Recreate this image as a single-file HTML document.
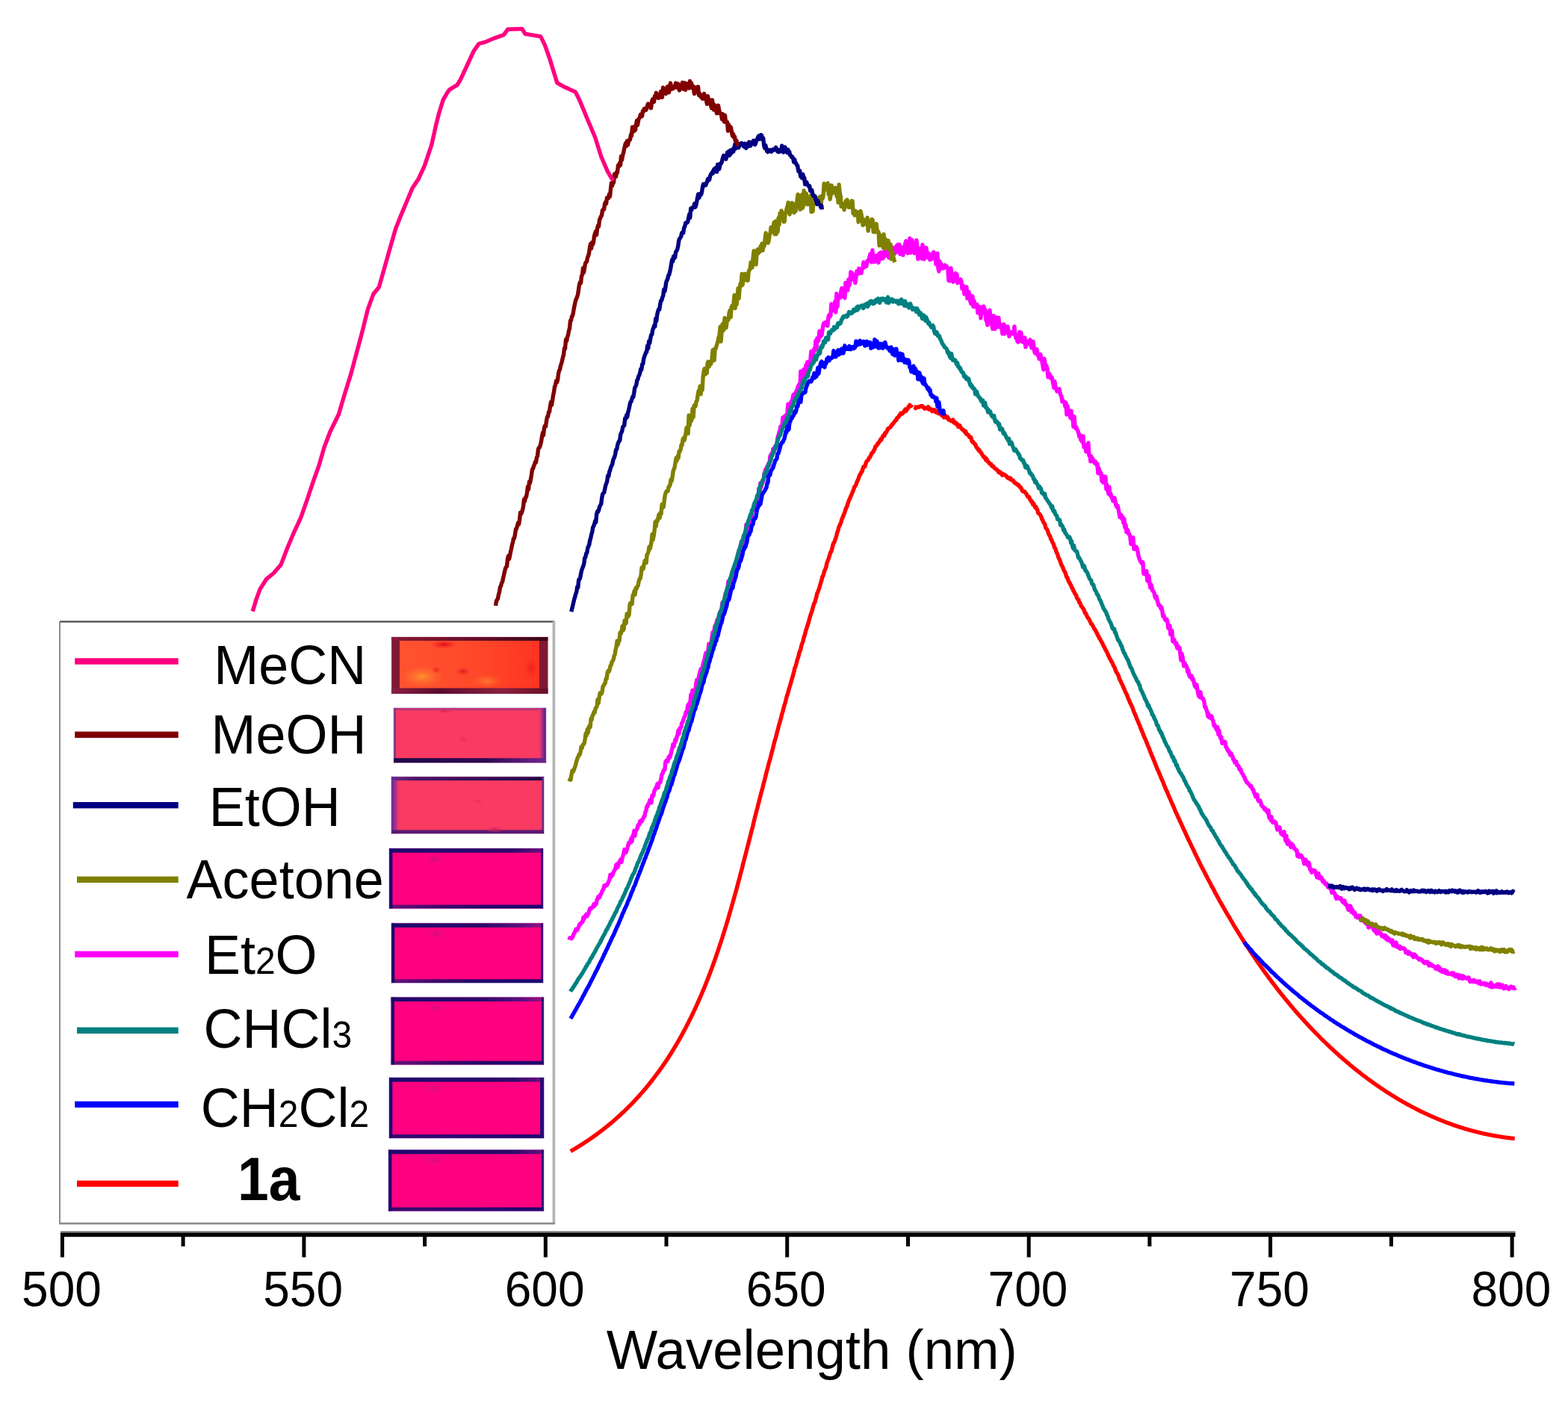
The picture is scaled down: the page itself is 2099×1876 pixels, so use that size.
<!DOCTYPE html>
<html><head><meta charset="utf-8"><title>Emission spectra</title>
<style>html,body{margin:0;padding:0;background:#fff;}body{width:2099px;height:1876px;overflow:hidden;}svg{display:block;}</style>
</head><body>
<svg xmlns="http://www.w3.org/2000/svg" width="2099" height="1876" viewBox="0 0 2099 1876">
<rect width="100%" height="100%" fill="#fff"/>
<path d="M763.8 1541.6L764.8 1541.0L765.8 1540.4L766.8 1539.8L767.8 1539.2L768.8 1538.6L769.8 1538.1L770.8 1537.5L771.8 1536.9L772.8 1536.3L773.8 1535.6L774.8 1535.0L775.8 1534.4L776.8 1533.8L777.8 1533.1L778.8 1532.5L779.8 1531.9L780.8 1531.2L781.8 1530.6L782.8 1529.9L783.8 1529.3L784.8 1528.6L785.8 1527.9L786.8 1527.3L787.8 1526.6L788.8 1525.9L789.8 1525.2L790.8 1524.5L791.8 1523.9L792.8 1523.2L793.8 1522.5L794.8 1521.7L795.8 1521.0L796.8 1520.3L797.8 1519.6L798.8 1518.8L799.8 1518.1L800.8 1517.4L801.8 1516.6L802.8 1515.9L803.8 1515.1L804.8 1514.3L805.8 1513.6L806.8 1512.8L807.8 1512.0L808.8 1511.3L809.8 1510.5L810.8 1509.6L811.8 1508.9L812.8 1508.1L813.8 1507.2L814.8 1506.4L815.8 1505.6L816.8 1504.8L817.8 1503.9L818.8 1503.1L819.8 1502.3L820.8 1501.4L821.8 1500.5L822.8 1499.7L823.8 1498.8L824.8 1497.9L825.8 1497.0L826.8 1496.1L827.8 1495.2L828.8 1494.3L829.8 1493.4L830.8 1492.5L831.8 1491.5L832.8 1490.6L833.8 1489.7L834.8 1488.8L835.8 1487.8L836.8 1486.8L837.8 1485.8L838.8 1484.9L839.8 1483.9L840.8 1482.9L841.8 1481.9L842.8 1480.9L843.8 1479.9L844.8 1478.9L845.8 1477.8L846.8 1476.8L847.8 1475.8L848.8 1474.7L849.8 1473.6L850.8 1472.5L851.8 1471.5L852.8 1470.4L853.8 1469.3L854.8 1468.2L855.8 1467.1L856.8 1466.0L857.8 1464.8L858.8 1463.7L859.8 1462.6L860.8 1461.4L861.8 1460.3L862.8 1459.1L863.8 1457.9L864.8 1456.7L865.8 1455.5L866.8 1454.3L867.8 1453.1L868.8 1451.8L869.8 1450.5L870.8 1449.3L871.8 1448.0L872.8 1446.7L873.8 1445.5L874.8 1444.2L875.8 1442.9L876.8 1441.5L877.8 1440.2L878.8 1438.9L879.8 1437.5L880.8 1436.2L881.8 1434.8L882.8 1433.5L883.8 1432.0L884.8 1430.6L885.8 1429.2L886.8 1427.8L887.8 1426.3L888.8 1424.9L889.8 1423.4L890.8 1421.9L891.8 1420.4L892.8 1418.9L893.8 1417.4L894.8 1415.9L895.8 1414.3L896.8 1412.8L897.8 1411.2L898.8 1409.6L899.8 1408.0L900.8 1406.3L901.8 1404.7L902.8 1403.0L903.8 1401.4L904.8 1399.7L905.8 1398.0L906.8 1396.4L907.8 1394.5L908.8 1392.8L909.8 1391.1L910.8 1389.3L911.8 1387.5L912.8 1385.7L913.8 1383.9L914.8 1382.0L915.8 1380.1L916.8 1378.4L917.8 1376.4L918.8 1374.4L919.8 1372.5L920.8 1370.6L921.8 1368.6L922.8 1366.5L923.8 1364.6L924.8 1362.6L925.8 1360.5L926.8 1358.5L927.8 1356.4L928.8 1354.3L929.8 1352.2L930.8 1349.9L931.8 1347.8L932.8 1345.6L933.8 1343.4L934.8 1341.2L935.8 1338.7L936.8 1336.7L937.8 1334.2L938.8 1332.0L939.8 1329.5L940.8 1327.2L941.8 1324.9L942.8 1322.4L943.8 1319.9L944.8 1317.5L945.8 1314.9L946.8 1312.4L947.8 1309.9L948.8 1307.3L949.8 1304.6L950.8 1302.2L951.8 1299.2L952.8 1296.7L953.8 1293.9L954.8 1291.2L955.8 1288.4L956.8 1285.6L957.8 1282.8L958.8 1279.7L959.8 1276.8L960.8 1274.1L961.8 1271.0L962.8 1268.0L963.8 1264.9L964.8 1262.1L965.8 1259.0L966.8 1256.0L967.8 1252.6L968.8 1249.5L969.8 1246.2L970.8 1243.1L971.8 1240.0L972.8 1236.4L973.8 1233.3L974.8 1229.9L975.8 1226.4L976.8 1222.7L977.8 1219.7L978.8 1216.1L979.8 1212.5L980.8 1209.1L981.8 1205.5L982.8 1202.1L983.8 1198.1L984.8 1194.8L985.8 1191.2L986.8 1187.5L987.8 1183.5L988.8 1179.7L989.8 1176.2L990.8 1172.2L991.8 1168.4L992.8 1164.8L993.8 1160.7L994.8 1156.5L995.8 1152.9L996.8 1148.8L997.8 1145.3L998.8 1141.3L999.8 1137.2L1000.8 1133.4L1001.8 1129.6L1002.8 1125.5L1003.8 1121.8L1004.8 1117.6L1005.8 1113.8L1006.8 1110.0L1007.8 1106.1L1008.8 1101.6L1009.8 1098.0L1010.8 1093.4L1011.8 1089.7L1012.8 1085.5L1013.8 1082.3L1014.8 1077.8L1015.8 1074.2L1016.8 1070.3L1017.8 1066.4L1018.8 1062.4L1019.8 1058.7L1020.8 1055.2L1021.8 1050.9L1022.8 1047.2L1023.8 1043.4L1024.8 1039.3L1025.8 1035.1L1026.8 1031.5L1027.8 1028.1L1028.8 1023.5L1029.8 1020.0L1030.8 1016.7L1031.8 1012.8L1032.8 1008.8L1033.8 1005.3L1034.8 1001.3L1035.8 997.1L1036.8 993.2L1037.8 989.7L1038.8 986.5L1039.8 982.3L1040.8 978.5L1041.8 974.8L1042.8 970.8L1043.8 967.6L1044.8 963.6L1045.8 960.5L1046.8 955.8L1047.8 953.1L1048.8 949.1L1049.8 945.0L1050.8 942.4L1051.8 938.4L1052.8 934.0L1053.8 930.9L1054.8 927.8L1055.8 923.9L1056.8 920.9L1057.8 917.3L1058.8 913.7L1059.8 910.1L1060.8 907.0L1061.8 903.2L1062.8 899.6L1063.8 894.9L1064.8 892.8L1065.8 889.5L1066.8 885.3L1067.8 881.8L1068.8 879.5L1069.8 874.3L1070.8 871.9L1071.8 869.4L1072.8 864.4L1073.8 861.8L1074.8 859.1L1075.8 854.7L1076.8 851.7L1077.8 848.5L1078.8 844.2L1079.8 841.3L1080.8 838.2L1081.8 835.2L1082.8 831.4L1083.8 828.0L1084.8 824.3L1085.8 821.4L1086.8 818.8L1087.8 815.1L1088.8 811.4L1089.8 808.1L1090.8 806.7L1091.8 802.8L1092.8 799.4L1093.8 794.5L1094.8 793.0L1095.8 789.7L1096.8 787.3L1097.8 783.4L1098.8 780.0L1099.8 777.2L1100.8 772.5L1101.8 771.3L1102.8 767.7L1103.8 764.0L1104.8 762.2L1105.8 759.5L1106.8 754.3L1107.8 751.7L1108.8 749.3L1109.8 746.2L1110.8 742.8L1111.8 739.4L1112.8 738.5L1113.8 734.8L1114.8 730.3L1115.8 727.2L1116.8 726.3L1117.8 722.9L1118.8 720.5L1119.8 716.9L1120.8 712.8L1121.8 710.7L1122.8 706.0L1123.8 704.2L1124.8 701.9L1125.8 699.5L1126.8 695.8L1127.8 693.4L1128.8 691.1L1129.8 688.4L1130.8 685.9L1131.8 682.9L1132.8 679.8L1133.8 678.1L1134.8 674.9L1135.8 671.7L1136.8 669.3L1137.8 667.3L1138.8 664.7L1139.8 662.5L1140.8 660.0L1141.8 657.7L1142.8 655.1L1143.8 651.9L1144.8 651.0L1145.8 649.2L1146.8 646.5L1147.8 643.8L1148.8 642.1L1149.8 638.8L1150.8 635.8L1151.8 635.4L1152.8 632.5L1153.8 631.9L1154.8 628.3L1155.8 625.3L1156.8 624.4L1157.8 624.8L1158.8 621.1L1159.8 618.4L1160.8 617.1L1161.8 616.4L1162.8 614.6L1163.8 612.5L1164.8 611.9L1165.8 609.5L1166.8 607.1L1167.8 606.0L1168.8 605.3L1169.8 603.1L1170.8 601.5L1171.8 597.9L1172.8 597.2L1173.8 596.5L1174.8 594.0L1175.8 593.8L1176.8 591.8L1177.8 590.7L1178.8 588.1L1179.8 589.0L1180.8 586.7L1181.8 583.9L1182.8 582.8L1183.8 583.5L1184.8 579.7L1185.8 579.5L1186.8 578.3L1187.8 576.1L1188.8 573.7L1189.8 573.7L1190.8 572.7L1191.8 572.2L1192.8 570.6L1193.8 568.7L1194.8 568.3L1195.8 566.9L1196.8 565.4L1197.8 564.1L1198.8 562.7L1199.8 562.5L1200.8 559.7L1201.8 559.0L1202.8 558.6L1203.8 556.0L1204.8 556.1L1205.8 553.4L1206.8 553.8L1207.8 554.0L1208.8 553.0L1209.8 551.4L1210.8 550.3L1211.8 548.1L1212.8 550.5L1213.8 548.2L1214.8 547.9L1215.8 545.0L1216.8 544.8L1217.8 542.2L1218.8 544.1L1219.8 543.4L1220.5 541.7" fill="none" stroke="#FF0000" stroke-width="5.4" stroke-linejoin="round" stroke-linecap="butt"/>
<path d="M1223.7 544.7L1224.7 544.9L1225.7 546.7L1226.7 545.5L1227.7 545.5L1228.7 545.0L1229.7 544.7L1230.7 545.1L1231.7 544.4L1232.7 543.8L1233.7 543.7L1234.7 543.6L1235.7 545.3L1236.7 545.8L1237.7 547.1L1238.7 546.2L1239.7 546.2L1240.7 546.9L1241.7 546.4L1242.7 544.8L1243.7 548.2L1244.7 547.0L1245.7 548.0L1246.7 547.9L1247.7 550.7L1248.7 550.2L1249.7 549.9L1250.7 548.7L1251.7 551.3L1252.7 549.9L1253.7 552.5L1254.7 550.2L1255.7 552.2L1256.7 553.8L1257.7 552.5L1258.7 554.1L1259.7 554.7L1260.7 556.1L1261.7 555.1L1262.7 557.0L1263.7 558.9L1264.7 555.9L1265.7 557.1L1266.7 559.1L1267.7 558.6L1268.7 558.5L1269.7 562.0L1270.7 562.1L1271.7 562.9L1272.7 563.6L1273.7 563.9L1274.7 562.9L1275.7 562.1L1276.7 565.7L1277.7 564.8L1278.7 566.7L1279.7 567.8L1280.7 566.8L1281.7 568.5L1282.7 571.5L1283.7 571.3L1284.7 569.7L1285.7 572.0L1286.7 573.1L1287.7 574.6L1288.7 575.7L1289.7 575.8L1290.7 576.6L1291.7 578.8L1292.7 577.6L1293.7 581.3L1294.7 581.6L1295.7 582.0L1296.7 583.2L1297.7 585.3L1298.7 584.9L1299.7 585.5L1300.7 589.4L1301.7 591.9L1302.7 591.7L1303.7 593.3L1304.7 594.7L1305.7 595.2L1306.7 598.0L1307.7 599.8L1308.7 600.4L1309.7 602.6L1310.7 602.2L1311.7 604.8L1312.7 605.2L1313.7 606.7L1314.7 608.8L1315.7 610.0L1316.7 611.9L1317.7 612.9L1318.7 612.4L1319.7 615.9L1320.7 614.4L1321.7 616.9L1322.7 618.4L1323.7 619.1L1324.7 620.7L1325.7 621.3L1326.7 621.4L1327.7 624.0L1328.7 624.2L1329.7 624.3L1330.7 626.1L1331.7 626.9L1332.7 628.1L1333.7 628.1L1334.7 629.5L1335.7 630.0L1336.7 632.3L1337.7 631.3L1338.7 633.4L1339.7 632.9L1340.7 634.7L1341.7 636.2L1342.7 634.7L1343.7 635.8L1344.7 635.5L1345.7 636.3L1346.7 637.1L1347.7 638.3L1348.7 639.7L1349.7 640.4L1350.7 639.8L1351.7 641.1L1352.7 640.3L1353.7 642.8L1354.7 642.9L1355.7 642.9L1356.7 644.0L1357.7 645.9L1358.7 646.3L1359.7 647.6L1360.7 647.5L1361.7 648.9L1362.7 649.5L1363.7 649.3L1364.7 651.5L1365.7 652.5L1366.7 653.0L1367.7 655.3L1368.7 657.5L1369.7 658.0L1370.7 658.0L1371.7 658.1L1372.7 660.1L1373.7 661.0L1374.7 662.9L1375.7 665.0L1376.7 665.3L1377.7 665.5L1378.7 669.1L1379.7 669.5L1380.7 672.0L1381.7 671.7L1382.7 675.6L1383.7 674.4L1384.7 677.1L1385.7 679.3L1386.7 678.6L1387.7 681.4L1388.7 682.5L1389.7 686.8L1390.7 687.9L1391.7 688.4L1392.7 689.7L1393.7 691.6L1394.7 695.0L1395.7 696.3L1396.7 699.2L1397.7 700.6L1398.7 701.8L1399.7 706.5L1400.7 707.7L1401.7 709.0L1402.7 711.5L1403.7 714.9L1404.7 716.9L1405.7 717.7L1406.7 721.9L1407.7 722.8L1408.7 726.0L1409.7 727.1L1410.7 729.9L1411.7 733.4L1412.7 734.4L1413.7 737.8L1414.7 740.4L1415.7 742.1L1416.7 746.0L1417.7 748.0L1418.7 749.9L1419.7 753.1L1420.7 755.7L1421.7 758.1L1422.7 759.6L1423.7 762.5L1424.7 764.6L1425.7 766.0L1426.7 768.8L1427.7 772.6L1428.7 773.1L1429.7 776.1L1430.7 779.0L1431.7 779.9L1432.7 782.3L1433.7 783.9L1434.7 786.8L1435.7 787.7L1436.7 790.8L1437.7 792.0L1438.7 794.7L1439.7 795.4L1440.7 797.7L1441.7 800.8L1442.7 802.5L1443.7 802.7L1444.7 806.7L1445.7 807.2L1446.7 810.0L1447.7 811.9L1448.7 813.1L1449.7 814.7L1450.7 815.7L1451.7 818.8L1452.7 821.4L1453.7 821.4L1454.7 824.5L1455.7 826.1L1456.7 827.9L1457.7 828.6L1458.7 830.9L1459.7 832.9L1460.7 835.4L1461.7 835.8L1462.7 837.8L1463.7 839.4L1464.7 842.1L1465.7 842.6L1466.7 845.1L1467.7 846.3L1468.7 848.6L1469.7 851.0L1470.7 852.2L1471.7 854.6L1472.7 855.9L1473.7 858.0L1474.7 859.8L1475.7 861.3L1476.7 863.9L1477.7 865.9L1478.7 867.1L1479.7 869.8L1480.7 871.4L1481.7 873.2L1482.7 875.4L1483.7 877.7L1484.7 879.7L1485.7 882.1L1486.7 883.5L1487.7 885.5L1488.7 886.8L1489.7 889.3L1490.7 891.9L1491.7 893.2L1492.7 895.4L1493.7 898.8L1494.7 900.1L1495.7 901.8L1496.7 903.5L1497.7 906.2L1498.7 909.7L1499.7 911.0L1500.7 913.5L1501.7 915.7L1502.7 917.4L1503.7 920.0L1504.7 922.2L1505.7 924.3L1506.7 927.1L1507.7 928.6L1508.7 931.0L1509.7 933.3L1510.7 936.4L1511.7 938.0L1512.7 941.3L1513.7 942.4L1514.7 944.9L1515.7 946.8L1516.7 949.7L1517.7 952.4L1518.7 955.1L1519.7 956.8L1520.7 959.4L1521.7 962.5L1522.7 964.2L1523.7 966.9L1524.7 969.5L1525.7 971.3L1526.7 974.6L1527.7 976.5L1528.7 979.3L1529.7 981.4L1530.7 984.0L1531.7 986.8L1532.7 988.9L1533.7 990.7L1534.7 993.6L1535.7 996.0L1536.7 998.6L1537.7 1001.1L1538.7 1003.0L1539.7 1006.6L1540.7 1008.2L1541.7 1011.3L1542.7 1013.2L1543.7 1015.7L1544.7 1018.2L1545.7 1020.6L1546.7 1023.3L1547.7 1025.9L1548.7 1028.5L1549.7 1030.9L1550.7 1032.4L1551.7 1035.4L1552.7 1037.7L1553.7 1040.0L1554.7 1042.4L1555.7 1044.7L1556.7 1046.8L1557.7 1049.3L1558.7 1052.1L1559.7 1054.2L1560.7 1056.9L1561.7 1058.8L1562.7 1061.1L1563.7 1063.6L1564.7 1065.9L1565.7 1068.4L1566.7 1070.4L1567.7 1073.0L1568.7 1075.2L1569.7 1077.2L1570.7 1079.6L1571.7 1081.9L1572.7 1084.5L1573.7 1086.8L1574.7 1088.9L1575.7 1090.9L1576.7 1093.4L1577.7 1095.5L1578.7 1097.5L1579.7 1100.0L1580.7 1101.9L1581.7 1104.2L1582.7 1106.3L1583.7 1108.4L1584.7 1110.9L1585.7 1112.7L1586.7 1115.0L1587.7 1117.2L1588.7 1119.6L1589.7 1121.5L1590.7 1123.9L1591.7 1125.7L1592.7 1127.8L1593.7 1129.9L1594.7 1132.1L1595.7 1134.1L1596.7 1136.1L1597.7 1138.3L1598.7 1140.3L1599.7 1142.8L1600.7 1144.4L1601.7 1146.7L1602.7 1148.5L1603.7 1150.9L1604.7 1152.7L1605.7 1154.7L1606.7 1157.0L1607.7 1159.0L1608.7 1161.0L1609.7 1162.9L1610.7 1164.7L1611.7 1166.6L1612.7 1168.5L1613.7 1170.5L1614.7 1172.6L1615.7 1174.4L1616.7 1176.4L1617.7 1178.3L1618.7 1180.2L1619.7 1182.0L1620.7 1183.8L1621.7 1186.2L1622.7 1187.8L1623.7 1189.4L1624.7 1191.3L1625.7 1193.3L1626.7 1195.5L1627.7 1197.1L1628.7 1198.8L1629.7 1201.0L1630.7 1202.3L1631.7 1204.5L1632.7 1206.5L1633.7 1207.9L1634.7 1209.9L1635.7 1211.6L1636.7 1213.0L1637.7 1215.1L1638.7 1216.7L1639.7 1218.3L1640.7 1220.4L1641.7 1222.0L1642.7 1223.8L1643.7 1225.5L1644.7 1227.1L1645.7 1228.6L1646.7 1230.5L1647.7 1232.2L1648.7 1233.8L1649.7 1235.5L1650.7 1237.3L1651.7 1239.2L1652.7 1240.6L1653.7 1242.3L1654.7 1244.0L1655.7 1245.6L1656.7 1247.1L1657.7 1248.7L1658.7 1250.3L1659.7 1252.1L1660.7 1253.6L1661.7 1255.3L1662.7 1256.7L1663.7 1258.3L1664.7 1260.0L1665.7 1261.7L1666.7 1263.0L1667.7 1264.5L1668.7 1266.2L1669.7 1267.5L1670.7 1269.3L1671.7 1270.6L1672.7 1272.1L1673.7 1273.8L1674.7 1275.2L1675.7 1276.9L1676.7 1278.3L1677.7 1279.8L1678.7 1281.0L1679.7 1282.7L1680.7 1284.1L1681.7 1285.4L1682.7 1287.2L1683.7 1288.3L1684.7 1289.9L1685.7 1291.3L1686.7 1292.7L1687.7 1294.2L1688.7 1295.7L1689.7 1296.9L1690.7 1298.5L1691.7 1299.9L1692.7 1301.3L1693.7 1302.7L1694.7 1303.9L1695.7 1305.3L1696.7 1306.7L1697.7 1308.0L1698.7 1309.4L1699.7 1310.9L1700.7 1312.2L1701.7 1313.5L1702.7 1314.8L1703.7 1316.2L1704.7 1317.5L1705.7 1318.6L1706.7 1319.9L1707.7 1321.4L1708.7 1322.7L1709.7 1324.0L1710.7 1325.3L1711.7 1326.4L1712.7 1327.7L1713.7 1329.1L1714.7 1330.2L1715.7 1331.6L1716.7 1332.9L1717.7 1333.9L1718.7 1335.3L1719.7 1336.6L1720.7 1337.8L1721.7 1338.9L1722.7 1340.1L1723.7 1341.4L1724.7 1342.5L1725.7 1343.8L1726.7 1345.0L1727.7 1346.2L1728.7 1347.4L1729.7 1348.6L1730.7 1349.7L1731.7 1350.9L1732.7 1352.1L1733.7 1353.2L1734.7 1354.4L1735.7 1355.6L1736.7 1356.7L1737.7 1357.9L1738.7 1359.0L1739.7 1360.1L1740.7 1361.2L1741.7 1362.3L1742.7 1363.6L1743.7 1364.5L1744.7 1365.6L1745.7 1366.8L1746.7 1367.9L1747.7 1368.8L1748.7 1370.0L1749.7 1371.1L1750.7 1372.2L1751.7 1373.2L1752.7 1374.3L1753.7 1375.4L1754.7 1376.4L1755.7 1377.5L1756.7 1378.6L1757.7 1379.6L1758.7 1380.7L1759.7 1381.7L1760.7 1382.6L1761.7 1383.7L1762.7 1384.8L1763.7 1385.7L1764.7 1386.7L1765.7 1387.7L1766.7 1388.8L1767.7 1389.8L1768.7 1390.8L1769.7 1391.8L1770.7 1392.8L1771.7 1393.7L1772.7 1394.7L1773.7 1395.7L1774.7 1396.6L1775.7 1397.6L1776.7 1398.6L1777.7 1399.6L1778.7 1400.4L1779.7 1401.4L1780.7 1402.4L1781.7 1403.3L1782.7 1404.2L1783.7 1405.2L1784.7 1406.1L1785.7 1407.0L1786.7 1407.9L1787.7 1408.8L1788.7 1409.8L1789.7 1410.7L1790.7 1411.6L1791.7 1412.5L1792.7 1413.3L1793.7 1414.3L1794.7 1415.1L1795.7 1416.0L1796.7 1416.9L1797.7 1417.8L1798.7 1418.6L1799.7 1419.5L1800.7 1420.3L1801.7 1421.2L1802.7 1422.0L1803.7 1422.9L1804.7 1423.7L1805.7 1424.6L1806.7 1425.5L1807.7 1426.3L1808.7 1427.1L1809.7 1427.9L1810.7 1428.8L1811.7 1429.6L1812.7 1430.4L1813.7 1431.2L1814.7 1432.0L1815.7 1432.8L1816.7 1433.5L1817.7 1434.4L1818.7 1435.1L1819.7 1435.9L1820.7 1436.7L1821.7 1437.5L1822.7 1438.3L1823.7 1439.1L1824.7 1439.8L1825.7 1440.6L1826.7 1441.3L1827.7 1442.1L1828.7 1442.8L1829.7 1443.6L1830.7 1444.4L1831.7 1445.1L1832.7 1445.8L1833.7 1446.5L1834.7 1447.3L1835.7 1448.0L1836.7 1448.7L1837.7 1449.5L1838.7 1450.1L1839.7 1450.9L1840.7 1451.6L1841.7 1452.2L1842.7 1453.0L1843.7 1453.7L1844.7 1454.4L1845.7 1455.0L1846.7 1455.7L1847.7 1456.4L1848.7 1457.1L1849.7 1457.8L1850.7 1458.4L1851.7 1459.1L1852.7 1459.8L1853.7 1460.4L1854.7 1461.1L1855.7 1461.7L1856.7 1462.4L1857.7 1463.0L1858.7 1463.6L1859.7 1464.3L1860.7 1464.9L1861.7 1465.5L1862.7 1466.2L1863.7 1466.8L1864.7 1467.4L1865.7 1468.0L1866.7 1468.6L1867.7 1469.3L1868.7 1469.9L1869.7 1470.5L1870.7 1471.1L1871.7 1471.6L1872.7 1472.3L1873.7 1472.9L1874.7 1473.4L1875.7 1474.0L1876.7 1474.6L1877.7 1475.2L1878.7 1475.8L1879.7 1476.3L1880.7 1476.9L1881.7 1477.4L1882.7 1478.0L1883.7 1478.6L1884.7 1479.1L1885.7 1479.7L1886.7 1480.2L1887.7 1480.7L1888.7 1481.3L1889.7 1481.8L1890.7 1482.4L1891.7 1482.9L1892.7 1483.4L1893.7 1483.9L1894.7 1484.4L1895.7 1485.0L1896.7 1485.4L1897.7 1486.0L1898.7 1486.5L1899.7 1487.0L1900.7 1487.5L1901.7 1488.0L1902.7 1488.5L1903.7 1488.9L1904.7 1489.4L1905.7 1489.9L1906.7 1490.4L1907.7 1490.8L1908.7 1491.3L1909.7 1491.7L1910.7 1492.2L1911.7 1492.7L1912.7 1493.1L1913.7 1493.6L1914.7 1494.1L1915.7 1494.5L1916.7 1494.9L1917.7 1495.4L1918.7 1495.8L1919.7 1496.2L1920.7 1496.7L1921.7 1497.1L1922.7 1497.5L1923.7 1497.9L1924.7 1498.4L1925.7 1498.8L1926.7 1499.2L1927.7 1499.6L1928.7 1500.0L1929.7 1500.4L1930.7 1500.8L1931.7 1501.2L1932.7 1501.6L1933.7 1502.0L1934.7 1502.4L1935.7 1502.8L1936.7 1503.1L1937.7 1503.5L1938.7 1503.9L1939.7 1504.2L1940.7 1504.6L1941.7 1505.0L1942.7 1505.3L1943.7 1505.7L1944.7 1506.1L1945.7 1506.4L1946.7 1506.8L1947.7 1507.1L1948.7 1507.4L1949.7 1507.8L1950.7 1508.1L1951.7 1508.4L1952.7 1508.8L1953.7 1509.1L1954.7 1509.4L1955.7 1509.7L1956.7 1510.1L1957.7 1510.3L1958.7 1510.7L1959.7 1511.0L1960.7 1511.3L1961.7 1511.6L1962.7 1511.9L1963.7 1512.2L1964.7 1512.5L1965.7 1512.7L1966.7 1513.0L1967.7 1513.3L1968.7 1513.6L1969.7 1513.9L1970.7 1514.1L1971.7 1514.4L1972.7 1514.7L1973.7 1514.9L1974.7 1515.2L1975.7 1515.4L1976.7 1515.7L1977.7 1515.9L1978.7 1516.2L1979.7 1516.4L1980.7 1516.7L1981.7 1516.9L1982.7 1517.1L1983.7 1517.4L1984.7 1517.6L1985.7 1517.8L1986.7 1518.0L1987.7 1518.3L1988.7 1518.5L1989.7 1518.7L1990.7 1518.9L1991.7 1519.1L1992.7 1519.3L1993.7 1519.5L1994.7 1519.7L1995.7 1519.9L1996.7 1520.1L1997.7 1520.3L1998.7 1520.5L1999.7 1520.7L2000.7 1520.8L2001.7 1521.0L2002.7 1521.2L2003.7 1521.4L2004.7 1521.5L2005.7 1521.7L2006.7 1521.9L2007.7 1522.0L2008.7 1522.2L2009.7 1522.4L2010.7 1522.5L2011.7 1522.6L2012.7 1522.8L2013.7 1522.9L2014.7 1523.1L2015.7 1523.2L2016.7 1523.3L2017.7 1523.5L2018.7 1523.6L2019.7 1523.7L2020.7 1523.8L2021.7 1523.9L2022.7 1524.1L2023.7 1524.2L2024.7 1524.3L2025.7 1524.4L2026.7 1524.5L2027.7 1524.6" fill="none" stroke="#FF0000" stroke-width="5.4" stroke-linejoin="round" stroke-linecap="butt"/>
<path d="M761.9 1258.6L762.9 1255.7L763.9 1256.3L764.9 1256.8L765.9 1255.8L766.9 1253.9L767.9 1250.6L768.9 1249.7L769.9 1247.4L770.9 1244.1L771.9 1244.2L772.9 1245.3L773.9 1242.7L774.9 1240.3L775.9 1237.6L776.9 1237.9L777.9 1235.6L778.9 1235.2L779.9 1234.6L780.9 1228.4L781.9 1230.7L782.9 1226.8L783.9 1226.3L784.9 1224.3L785.9 1227.0L786.9 1224.8L787.9 1223.0L788.9 1219.2L789.9 1216.4L790.9 1216.9L791.9 1216.4L792.9 1214.4L793.9 1214.3L794.9 1210.8L795.9 1213.3L796.9 1209.7L797.9 1210.6L798.9 1205.8L799.9 1203.3L800.9 1200.6L801.9 1202.1L802.9 1201.0L803.9 1197.7L804.9 1196.6L805.9 1193.7L806.9 1191.8L807.9 1190.4L808.9 1185.7L809.9 1185.7L810.9 1186.1L811.9 1184.7L812.9 1184.9L813.9 1182.3L814.9 1180.3L815.9 1177.8L816.9 1171.6L817.9 1174.4L818.9 1170.8L819.9 1171.9L820.9 1168.6L821.9 1166.8L822.9 1164.6L823.9 1163.4L824.9 1158.1L825.9 1157.1L826.9 1161.2L827.9 1157.8L828.9 1154.2L829.9 1152.6L830.9 1150.7L831.9 1154.4L832.9 1149.0L833.9 1146.0L834.9 1142.7L835.9 1137.6L836.9 1140.7L837.9 1141.6L838.9 1138.8L839.9 1135.4L840.9 1131.6L841.9 1128.4L842.9 1129.3L843.9 1126.3L844.9 1122.7L845.9 1127.0L846.9 1119.3L847.9 1118.2L848.9 1112.4L849.9 1119.3L850.9 1113.1L851.9 1111.3L852.9 1110.1L853.9 1105.5L854.9 1104.0L855.9 1104.1L856.9 1099.4L857.9 1100.0L858.9 1100.1L859.9 1096.9L860.9 1096.4L861.9 1093.5L862.9 1093.0L863.9 1087.4L864.9 1085.6L865.9 1079.8L866.9 1079.9L867.9 1076.4L868.9 1075.8L869.9 1071.2L870.9 1072.4L871.9 1074.9L872.9 1065.3L873.9 1066.4L874.9 1064.3L875.9 1058.7L876.9 1057.5L877.9 1054.7L878.9 1054.8L879.9 1049.8L880.9 1054.8L881.9 1049.0L882.9 1047.5L883.9 1047.8L884.9 1043.4L885.9 1037.2L886.9 1036.1L887.9 1032.8L888.9 1031.0L889.9 1030.5L890.9 1020.2L891.9 1018.6L892.9 1019.8L893.9 1019.4L894.9 1014.4L895.9 1012.8L896.9 1013.9L897.9 1010.2L898.9 1005.5L899.9 1002.4L900.9 996.7L901.9 999.6L902.9 996.0L903.9 990.4L904.9 991.9L905.9 986.9L906.9 984.4L907.9 978.1L908.9 982.7L909.9 975.3L910.9 975.7L911.9 972.9L912.9 967.9L913.9 966.7L914.9 963.5L915.9 960.7L916.9 959.3L917.9 954.1L918.9 955.3L919.9 950.9L920.9 944.3L921.9 946.3L922.9 941.0L923.9 940.9L924.9 930.2L925.9 934.9L926.9 924.5L927.9 926.8L928.9 932.5L929.9 924.6L930.9 922.9L931.9 914.5L932.9 910.3L933.9 910.7L934.9 909.4L935.9 904.9L936.9 900.1L937.9 896.5L938.9 895.1L939.9 898.8L940.9 890.6L941.9 886.4L942.9 883.8L943.9 878.5L944.9 874.3L945.9 876.3L946.9 877.3L947.9 871.5L948.9 862.1L949.9 868.9L950.9 861.7L951.9 864.2L952.9 854.2L953.9 847.0L954.9 849.4L955.9 845.0L956.9 838.7L957.9 836.8L958.9 834.9L959.9 830.1L960.9 832.3L961.9 828.1L962.9 822.3L963.9 819.5L964.9 820.9L965.9 816.1L966.9 807.2L967.9 809.3L968.9 811.5L969.9 803.3L970.9 795.9L971.9 801.5L972.9 800.9L973.9 790.2L974.9 778.4L975.9 777.9L976.9 787.3L977.9 776.5L978.9 776.7L979.9 773.0L980.9 768.5L981.9 771.1L982.9 762.4L983.9 760.8L984.9 756.6L985.9 753.2L986.9 757.3L987.9 741.7L988.9 738.1L989.9 744.0L990.9 731.6L991.9 734.1L992.9 726.2L993.9 731.0L994.9 724.0L995.9 723.7L996.9 714.9L997.9 714.1L998.9 702.5L999.9 711.9L1000.9 707.0L1001.9 702.3L1002.9 699.4L1003.9 694.6L1004.9 692.8L1005.9 697.8L1006.9 684.4L1007.9 681.9L1008.9 683.7L1009.9 678.8L1010.9 672.2L1011.9 678.7L1012.9 675.8L1013.9 664.3L1014.9 670.5L1015.9 653.8L1016.9 663.3L1017.9 646.8L1018.9 652.4L1019.9 647.2L1020.9 643.3L1021.9 644.7L1022.9 634.8L1023.9 632.8L1024.9 628.2L1025.9 636.9L1026.9 624.7L1027.9 626.0L1028.9 620.6L1029.9 623.4L1030.9 611.2L1031.9 609.1L1032.9 607.3L1033.9 608.2L1034.9 601.1L1035.9 603.8L1036.9 601.5L1037.9 600.9L1038.9 595.9L1039.9 597.1L1040.9 586.4L1041.9 582.9L1042.9 579.3L1043.9 576.6L1044.9 570.9L1045.9 576.2L1046.9 572.1L1047.9 559.2L1048.9 565.8L1049.9 560.3L1050.9 556.7L1051.9 557.1L1052.9 561.5L1053.9 553.7L1054.9 541.1L1055.9 549.5L1056.9 541.2L1057.9 550.7L1058.9 537.9L1059.9 537.4L1060.9 534.2L1061.9 528.7L1062.9 528.2L1063.9 527.1L1064.9 535.6L1065.9 523.3L1066.9 522.8L1067.9 518.4L1068.9 516.3L1069.9 514.6L1070.9 517.5L1071.9 497.2L1072.9 502.6L1073.9 499.2L1074.9 505.2L1075.9 494.6L1076.9 501.0L1077.9 499.4L1078.9 488.9L1079.9 492.1L1080.9 484.6L1081.9 488.8L1082.9 484.9L1083.9 486.1L1084.9 481.9L1085.9 470.4L1086.9 480.6L1087.9 471.2L1088.9 474.2L1089.9 467.0L1090.9 469.1L1091.9 456.1L1092.9 466.8L1093.9 452.8L1094.9 454.8L1095.9 455.9L1096.9 443.5L1097.9 451.1L1098.9 447.1L1099.9 449.1L1100.9 442.3L1101.9 435.4L1102.9 432.8L1103.9 432.1L1104.9 435.0L1105.9 431.3L1106.9 433.3L1107.9 436.1L1108.9 424.6L1109.9 421.7L1110.9 424.2L1111.9 422.5L1112.9 406.9L1113.9 412.9L1114.9 414.8L1115.9 415.7L1116.9 408.2L1117.9 403.4L1118.9 418.0L1119.9 393.2L1120.9 411.0L1121.9 398.2L1122.9 397.9L1123.9 398.2L1124.9 398.4L1125.9 389.8L1126.9 385.9L1127.9 393.5L1128.9 396.9L1129.9 387.1L1130.9 399.1L1131.9 378.8L1132.9 388.6L1133.9 385.4L1134.9 388.6L1135.9 374.1L1136.9 382.2L1137.9 376.8L1138.9 364.1L1139.9 372.4L1140.9 365.7L1141.9 370.4L1142.9 374.5L1143.9 369.4L1144.9 378.9L1145.9 371.4L1146.9 363.3L1147.9 363.6L1148.9 366.6L1149.9 359.4L1150.9 365.4L1151.9 364.6L1152.9 365.7L1153.9 360.5L1154.9 359.4L1155.9 351.3L1156.9 358.0L1157.9 355.1L1158.9 356.0L1159.9 356.4L1160.9 349.5L1161.9 350.3L1162.9 347.8L1163.9 344.5L1164.9 340.1L1165.9 343.5L1166.9 351.1L1167.9 335.0L1168.9 349.7L1169.9 350.3L1170.9 350.5L1171.9 343.0L1172.9 342.3L1173.9 349.3L1174.9 347.0L1175.9 351.7L1176.9 339.6L1177.9 338.7L1178.9 346.7L1179.9 338.0L1180.9 338.8L1181.9 346.1L1182.9 342.8L1183.9 335.8L1184.9 340.6L1185.9 336.8L1186.9 342.5L1187.9 338.1L1188.9 331.0L1189.9 345.0L1190.9 334.7L1191.9 335.0L1192.9 330.9L1193.9 334.0L1194.9 331.6L1195.9 336.6L1196.9 336.0L1197.9 339.5L1198.9 337.1L1199.9 329.7L1200.9 328.4L1201.9 327.7L1202.9 337.5L1203.9 327.5L1204.9 340.2L1205.9 332.7L1206.9 331.4L1207.9 332.6L1208.9 341.6L1209.9 332.1L1210.9 329.5L1211.9 325.7L1212.9 322.7L1213.9 327.9L1214.9 339.0L1215.9 335.2L1216.9 327.9L1217.9 319.1L1218.9 338.5L1219.9 334.5L1220.9 321.2L1221.9 331.7L1222.9 327.1L1223.9 339.1L1224.9 337.3L1225.9 330.2L1226.9 321.8L1227.9 332.9L1228.9 346.8L1229.9 338.0L1230.9 332.8L1231.9 341.3L1232.9 333.6L1233.9 346.2L1234.9 327.7L1235.9 335.5L1236.9 347.1L1237.9 345.4L1238.9 342.5L1239.9 331.8L1240.9 340.7L1241.9 344.8L1242.9 339.2L1243.9 342.4L1244.9 347.9L1245.9 341.4L1246.9 347.1L1247.9 343.3L1248.9 339.0L1249.9 337.7L1250.9 342.8L1251.9 342.6L1252.9 353.9L1253.9 349.4L1254.9 339.2L1255.9 358.9L1256.9 363.4L1257.9 349.7L1258.9 356.2L1259.9 353.3L1260.9 359.2L1261.9 356.4L1262.9 359.3L1263.9 357.6L1264.9 355.1L1265.9 357.7L1266.9 356.3L1267.9 358.0L1268.9 360.3L1269.9 375.7L1270.9 369.1L1271.9 376.2L1272.9 358.9L1273.9 366.6L1274.9 374.7L1275.9 377.4L1276.9 374.3L1277.9 370.3L1278.9 366.0L1279.9 376.4L1280.9 367.3L1281.9 379.0L1282.9 375.9L1283.9 376.3L1284.9 377.4L1285.9 374.1L1286.9 376.8L1287.9 386.8L1288.9 382.3L1289.9 383.1L1290.9 393.7L1291.9 393.2L1292.9 393.0L1293.9 384.3L1294.9 399.6L1295.9 398.1L1296.9 391.0L1297.9 394.4L1298.9 403.7L1299.9 406.6L1300.9 399.4L1301.9 396.6L1302.9 410.5L1303.9 402.6L1304.9 410.7L1305.9 407.9L1306.9 408.1L1307.9 407.8L1308.9 419.0L1309.9 410.3L1310.9 413.4L1311.9 411.0L1312.9 426.0L1313.9 416.7L1314.9 411.6L1315.9 417.8L1316.9 410.2L1317.9 419.1L1318.9 414.7L1319.9 428.5L1320.9 430.6L1321.9 435.3L1322.9 423.0L1323.9 421.0L1324.9 415.5L1325.9 428.5L1326.9 424.0L1327.9 435.7L1328.9 440.4L1329.9 422.7L1330.9 430.3L1331.9 440.6L1332.9 424.6L1333.9 426.6L1334.9 438.1L1335.9 436.1L1336.9 425.4L1337.9 438.0L1338.9 434.2L1339.9 436.8L1340.9 439.4L1341.9 447.0L1342.9 443.1L1343.9 434.1L1344.9 447.0L1345.9 444.1L1346.9 443.2L1347.9 437.7L1348.9 437.2L1349.9 442.5L1350.9 450.5L1351.9 445.9L1352.9 444.9L1353.9 446.2L1354.9 446.8L1355.9 444.2L1356.9 446.6L1357.9 437.2L1358.9 447.2L1359.9 452.8L1360.9 449.8L1361.9 457.0L1362.9 458.0L1363.9 448.9L1364.9 444.6L1365.9 451.9L1366.9 445.5L1367.9 457.4L1368.9 453.2L1369.9 458.2L1370.9 453.8L1371.9 452.2L1372.9 464.9L1373.9 456.9L1374.9 458.7L1375.9 460.1L1376.9 457.8L1377.9 459.4L1378.9 455.0L1379.9 462.9L1380.9 465.7L1381.9 460.3L1382.9 457.2L1383.9 464.6L1384.9 471.4L1385.9 473.0L1386.9 472.6L1387.9 467.7L1388.9 475.4L1389.9 474.0L1390.9 480.4L1391.9 480.2L1392.9 474.6L1393.9 481.9L1394.9 483.5L1395.9 489.5L1396.9 495.1L1397.9 480.3L1398.9 486.7L1399.9 488.5L1400.9 490.5L1401.9 493.5L1402.9 505.0L1403.9 502.3L1404.9 500.6L1405.9 505.8L1406.9 506.1L1407.9 504.8L1408.9 509.4L1409.9 514.1L1410.9 519.1L1411.9 510.9L1412.9 518.4L1413.9 521.4L1414.9 523.9L1415.9 522.4L1416.9 524.2L1417.9 520.7L1418.9 525.2L1419.9 529.1L1420.9 530.6L1421.9 537.9L1422.9 536.3L1423.9 537.7L1424.9 538.2L1425.9 544.4L1426.9 539.1L1427.9 555.1L1428.9 543.5L1429.9 548.9L1430.9 553.4L1431.9 555.3L1432.9 559.4L1433.9 550.1L1434.9 561.2L1435.9 557.6L1436.9 571.4L1437.9 557.8L1438.9 568.5L1439.9 573.6L1440.9 572.3L1441.9 575.4L1442.9 576.7L1443.9 580.3L1444.9 584.9L1445.9 582.5L1446.9 589.3L1447.9 586.2L1448.9 592.1L1449.9 584.0L1450.9 598.6L1451.9 595.9L1452.9 598.4L1453.9 604.9L1454.9 595.7L1455.9 596.7L1456.9 593.1L1457.9 609.8L1458.9 609.2L1459.9 617.9L1460.9 611.2L1461.9 614.4L1462.9 614.7L1463.9 617.5L1464.9 619.6L1465.9 617.7L1466.9 619.0L1467.9 622.5L1468.9 621.2L1469.9 633.9L1470.9 626.6L1471.9 630.8L1472.9 633.8L1473.9 633.4L1474.9 644.3L1475.9 641.5L1476.9 646.2L1477.9 637.9L1478.9 642.6L1479.9 638.5L1480.9 654.8L1481.9 649.4L1482.9 656.4L1483.9 661.1L1484.9 652.1L1485.9 663.1L1486.9 661.3L1487.9 665.7L1488.9 667.2L1489.9 670.7L1490.9 669.9L1491.9 666.4L1492.9 671.3L1493.9 676.3L1494.9 678.6L1495.9 676.8L1496.9 680.7L1497.9 685.7L1498.9 692.3L1499.9 689.9L1500.9 689.4L1501.9 694.8L1502.9 692.2L1503.9 700.2L1504.9 695.0L1505.9 706.2L1506.9 702.5L1507.9 712.5L1508.9 708.8L1509.9 710.2L1510.9 715.0L1511.9 715.2L1512.9 718.5L1513.9 728.6L1514.9 725.7L1515.9 727.8L1516.9 719.8L1517.9 735.2L1518.9 735.2L1519.9 734.3L1520.9 732.4L1521.9 733.7L1522.9 738.3L1523.9 743.7L1524.9 747.2L1525.9 749.8L1526.9 752.1L1527.9 753.6L1528.9 754.8L1529.9 752.9L1530.9 768.4L1531.9 766.3L1532.9 768.9L1533.9 766.9L1534.9 764.7L1535.9 777.8L1536.9 771.2L1537.9 771.3L1538.9 781.5L1539.9 786.9L1540.9 782.6L1541.9 786.5L1542.9 791.2L1543.9 791.7L1544.9 793.4L1545.9 798.4L1546.9 801.0L1547.9 798.3L1548.9 803.0L1549.9 806.6L1550.9 810.7L1551.9 810.9L1552.9 810.7L1553.9 815.0L1554.9 813.4L1555.9 818.7L1556.9 825.4L1557.9 824.2L1558.9 827.3L1559.9 830.3L1560.9 830.8L1561.9 829.4L1562.9 832.7L1563.9 841.2L1564.9 839.6L1565.9 837.6L1566.9 849.9L1567.9 845.3L1568.9 844.7L1569.9 858.8L1570.9 856.1L1571.9 856.5L1572.9 860.9L1573.9 863.1L1574.9 861.1L1575.9 868.1L1576.9 865.6L1577.9 867.7L1578.9 867.2L1579.9 875.0L1580.9 884.0L1581.9 875.3L1582.9 879.0L1583.9 885.8L1584.9 891.9L1585.9 887.6L1586.9 891.3L1587.9 891.2L1588.9 893.7L1589.9 900.0L1590.9 897.6L1591.9 904.5L1592.9 906.3L1593.9 904.4L1594.9 904.8L1595.9 909.7L1596.9 908.6L1597.9 912.0L1598.9 916.7L1599.9 919.4L1600.9 920.6L1601.9 916.7L1602.9 923.6L1603.9 928.6L1604.9 932.4L1605.9 933.5L1606.9 926.7L1607.9 931.7L1608.9 935.4L1609.9 935.6L1610.9 935.7L1611.9 939.6L1612.9 946.9L1613.9 946.5L1614.9 950.5L1615.9 952.5L1616.9 959.2L1617.9 955.8L1618.9 960.7L1619.9 958.5L1620.9 961.5L1621.9 958.9L1622.9 963.5L1623.9 964.7L1624.9 971.4L1625.9 970.3L1626.9 973.6L1627.9 975.3L1628.9 977.8L1629.9 973.7L1630.9 983.5L1631.9 978.2L1632.9 984.6L1633.9 988.7L1634.9 986.8L1635.9 995.3L1636.9 993.9L1637.9 993.4L1638.9 992.9L1639.9 993.7L1640.9 1000.2L1641.9 1000.6L1642.9 1003.3L1643.9 1005.9L1644.9 1005.3L1645.9 1007.7L1646.9 1010.9L1647.9 1008.5L1648.9 1011.5L1649.9 1012.6L1650.9 1017.2L1651.9 1017.1L1652.9 1021.2L1653.9 1020.1L1654.9 1019.8L1655.9 1024.7L1656.9 1025.1L1657.9 1025.4L1658.9 1029.8L1659.9 1030.8L1660.9 1030.3L1661.9 1034.3L1662.9 1035.7L1663.9 1037.4L1664.9 1039.6L1665.9 1040.5L1666.9 1044.0L1667.9 1045.0L1668.9 1047.9L1669.9 1047.8L1670.9 1049.2L1671.9 1050.3L1672.9 1051.3L1673.9 1053.2L1674.9 1052.5L1675.9 1055.0L1676.9 1057.6L1677.9 1057.7L1678.9 1062.0L1679.9 1063.4L1680.9 1066.9L1681.9 1067.3L1682.9 1064.1L1683.9 1070.9L1684.9 1072.8L1685.9 1073.0L1686.9 1072.0L1687.9 1075.3L1688.9 1078.9L1689.9 1079.6L1690.9 1080.5L1691.9 1081.6L1692.9 1084.1L1693.9 1082.7L1694.9 1085.5L1695.9 1085.6L1696.9 1088.4L1697.9 1085.2L1698.9 1094.8L1699.9 1093.4L1700.9 1097.9L1701.9 1093.6L1702.9 1100.0L1703.9 1101.3L1704.9 1100.1L1705.9 1100.0L1706.9 1101.0L1707.9 1101.4L1708.9 1106.9L1709.9 1111.0L1710.9 1108.8L1711.9 1108.9L1712.9 1107.9L1713.9 1112.8L1714.9 1116.4L1715.9 1115.1L1716.9 1118.1L1717.9 1116.8L1718.9 1113.9L1719.9 1120.4L1720.9 1125.4L1721.9 1118.8L1722.9 1129.0L1723.9 1130.3L1724.9 1125.6L1725.9 1129.8L1726.9 1130.8L1727.9 1134.2L1728.9 1129.6L1729.9 1131.7L1730.9 1131.6L1731.9 1135.5L1732.9 1135.6L1733.9 1137.3L1734.9 1138.8L1735.9 1138.7L1736.9 1146.4L1737.9 1143.5L1738.9 1147.2L1739.9 1147.5L1740.9 1146.7L1741.9 1145.4L1742.9 1147.6L1743.9 1149.0L1744.9 1152.2L1745.9 1156.7L1746.9 1153.6L1747.9 1151.1L1748.9 1155.4L1749.9 1157.2L1750.9 1159.0L1751.9 1154.8L1752.9 1159.3L1753.9 1164.4L1754.9 1166.0L1755.9 1168.2L1756.9 1164.9L1757.9 1165.5L1758.9 1166.4L1759.9 1165.5L1760.9 1167.0L1761.9 1171.7L1762.9 1174.6L1763.9 1171.6L1764.9 1169.5L1765.9 1176.0L1766.9 1173.9L1767.9 1174.5L1768.9 1175.1L1769.9 1178.2L1770.9 1180.8L1771.9 1179.2L1772.9 1181.3L1773.9 1183.9L1774.9 1182.8L1775.9 1183.1L1776.9 1186.2L1777.9 1188.2L1778.9 1188.1L1779.9 1187.2L1780.9 1190.2L1781.9 1191.0L1782.9 1195.4L1783.9 1191.9L1784.9 1195.3L1785.9 1195.0L1786.9 1196.7L1787.9 1200.4L1788.9 1203.3L1789.9 1200.2L1790.9 1201.5L1791.9 1203.0L1792.9 1203.4L1793.9 1202.6L1794.9 1202.4L1795.9 1204.6L1796.9 1207.0L1797.9 1208.4L1798.9 1207.7L1799.9 1206.0L1800.9 1211.0L1801.9 1210.8L1802.9 1211.5L1803.9 1215.3L1804.9 1218.2L1805.9 1216.2L1806.9 1218.6L1807.9 1213.1L1808.9 1221.2L1809.9 1217.3L1810.9 1219.2L1811.9 1223.4L1812.9 1221.9L1813.9 1222.5L1814.9 1227.6L1815.9 1226.8L1816.9 1228.7L1817.9 1228.3L1818.9 1226.1L1819.9 1228.9L1820.9 1226.2L1821.9 1232.3L1822.9 1230.0L1823.9 1230.7L1824.9 1233.0L1825.9 1231.6L1826.9 1234.9L1827.9 1232.9L1828.9 1237.1L1829.9 1234.7L1830.9 1234.0L1831.9 1242.0L1832.9 1241.1L1833.9 1239.5L1834.9 1238.2L1835.9 1241.0L1836.9 1241.5L1837.9 1241.7L1838.9 1245.4L1839.9 1243.8L1840.9 1247.6L1841.9 1246.0L1842.9 1250.2L1843.9 1245.7L1844.9 1248.3L1845.9 1249.6L1846.9 1248.0L1847.9 1249.6L1848.9 1250.6L1849.9 1253.6L1850.9 1252.8L1851.9 1254.4L1852.9 1252.4L1853.9 1255.7L1854.9 1252.9L1855.9 1257.8L1856.9 1254.7L1857.9 1259.1L1858.9 1258.8L1859.9 1257.5L1860.9 1259.0L1861.9 1261.1L1862.9 1260.2L1863.9 1259.2L1864.9 1265.9L1865.9 1263.1L1866.9 1266.4L1867.9 1264.5L1868.9 1262.0L1869.9 1267.7L1870.9 1266.7L1871.9 1267.1L1872.9 1269.6L1873.9 1267.2L1874.9 1270.6L1875.9 1268.9L1876.9 1269.4L1877.9 1269.9L1878.9 1269.6L1879.9 1270.5L1880.9 1271.5L1881.9 1275.5L1882.9 1275.2L1883.9 1274.9L1884.9 1277.3L1885.9 1274.5L1886.9 1276.6L1887.9 1277.8L1888.9 1277.2L1889.9 1278.8L1890.9 1280.0L1891.9 1281.7L1892.9 1277.9L1893.9 1278.4L1894.9 1279.8L1895.9 1280.2L1896.9 1282.4L1897.9 1283.2L1898.9 1283.5L1899.9 1285.1L1900.9 1283.9L1901.9 1284.7L1902.9 1284.9L1903.9 1285.6L1904.9 1288.1L1905.9 1287.9L1906.9 1289.6L1907.9 1287.9L1908.9 1288.1L1909.9 1288.0L1910.9 1287.9L1911.9 1291.2L1912.9 1292.9L1913.9 1290.4L1914.9 1292.4L1915.9 1291.2L1916.9 1293.0L1917.9 1293.7L1918.9 1293.5L1919.9 1294.3L1920.9 1294.7L1921.9 1297.1L1922.9 1295.1L1923.9 1297.0L1924.9 1293.8L1925.9 1298.8L1926.9 1295.5L1927.9 1297.2L1928.9 1300.6L1929.9 1298.9L1930.9 1301.5L1931.9 1299.0L1932.9 1300.9L1933.9 1298.7L1934.9 1302.9L1935.9 1301.4L1936.9 1300.6L1937.9 1304.0L1938.9 1303.9L1939.9 1303.8L1940.9 1304.1L1941.9 1303.4L1942.9 1303.0L1943.9 1305.1L1944.9 1302.7L1945.9 1303.2L1946.9 1304.7L1947.9 1307.6L1948.9 1307.3L1949.9 1306.8L1950.9 1305.1L1951.9 1308.3L1952.9 1309.9L1953.9 1305.9L1954.9 1307.2L1955.9 1308.6L1956.9 1310.2L1957.9 1306.7L1958.9 1310.2L1959.9 1307.8L1960.9 1309.2L1961.9 1309.5L1962.9 1309.6L1963.9 1310.5L1964.9 1310.6L1965.9 1308.8L1966.9 1311.2L1967.9 1314.5L1968.9 1313.0L1969.9 1313.2L1970.9 1313.5L1971.9 1314.5L1972.9 1312.3L1973.9 1314.5L1974.9 1314.5L1975.9 1314.1L1976.9 1315.4L1977.9 1314.1L1978.9 1314.6L1979.9 1316.9L1980.9 1313.9L1981.9 1316.5L1982.9 1317.9L1983.9 1316.7L1984.9 1317.3L1985.9 1316.9L1986.9 1316.6L1987.9 1318.8L1988.9 1317.3L1989.9 1317.2L1990.9 1319.2L1991.9 1318.2L1992.9 1318.4L1993.9 1320.6L1994.9 1319.7L1995.9 1315.8L1996.9 1322.0L1997.9 1318.7L1998.9 1319.3L1999.9 1321.2L2000.9 1320.8L2001.9 1321.0L2002.9 1319.2L2003.9 1318.1L2004.9 1321.5L2005.9 1320.1L2006.9 1317.7L2007.9 1322.0L2008.9 1321.0L2009.9 1320.0L2010.9 1319.0L2011.9 1322.6L2012.9 1323.6L2013.9 1322.3L2014.9 1323.0L2015.9 1320.3L2016.9 1323.0L2017.9 1323.0L2018.9 1323.5L2019.9 1324.4L2020.9 1322.0L2021.9 1322.6L2022.9 1321.2L2023.9 1322.6L2024.9 1323.0L2025.9 1321.8L2026.9 1323.5L2027.9 1323.5L2028.5 1322.6" fill="none" stroke="#FF00FF" stroke-width="5.4" stroke-linejoin="round" stroke-linecap="butt"/>
<path d="M763.9 1364.0L764.9 1362.1L765.9 1360.4L766.9 1358.6L767.9 1356.9L768.9 1355.3L769.9 1353.2L770.9 1351.6L771.9 1349.8L772.9 1347.9L773.9 1346.2L774.9 1344.5L775.9 1343.0L776.9 1340.9L777.9 1339.0L778.9 1337.3L779.9 1335.1L780.9 1333.3L781.9 1331.7L782.9 1329.6L783.9 1327.6L784.9 1325.8L785.9 1323.8L786.9 1322.4L787.9 1320.5L788.9 1318.7L789.9 1316.3L790.9 1314.4L791.9 1312.5L792.9 1310.7L793.9 1308.6L794.9 1306.8L795.9 1304.6L796.9 1302.4L797.9 1301.0L798.9 1298.6L799.9 1297.0L800.9 1294.6L801.9 1292.7L802.9 1290.3L803.9 1288.4L804.9 1286.6L805.9 1284.6L806.9 1282.4L807.9 1280.4L808.9 1277.8L809.9 1276.2L810.9 1273.9L811.9 1271.7L812.9 1269.9L813.9 1267.6L814.9 1265.3L815.9 1263.3L816.9 1261.1L817.9 1259.0L818.9 1256.9L819.9 1254.6L820.9 1252.8L821.9 1250.8L822.9 1248.4L823.9 1245.8L824.9 1243.5L825.9 1241.5L826.9 1239.1L827.9 1237.3L828.9 1234.7L829.9 1232.5L830.9 1229.9L831.9 1227.8L832.9 1225.1L833.9 1222.6L834.9 1220.9L835.9 1218.1L836.9 1215.9L837.9 1214.0L838.9 1211.9L839.9 1209.0L840.9 1206.4L841.9 1204.5L842.9 1202.1L843.9 1199.5L844.9 1196.6L845.9 1194.3L846.9 1192.4L847.9 1189.1L848.9 1187.1L849.9 1185.1L850.9 1182.5L851.9 1179.3L852.9 1176.9L853.9 1174.4L854.9 1171.5L855.9 1169.4L856.9 1166.5L857.9 1164.5L858.9 1161.2L859.9 1158.8L860.9 1156.2L861.9 1153.9L862.9 1150.2L863.9 1149.0L864.9 1145.8L865.9 1143.3L866.9 1141.2L867.9 1137.9L868.9 1135.4L869.9 1132.6L870.9 1130.2L871.9 1127.4L872.9 1124.9L873.9 1121.6L874.9 1118.3L875.9 1116.2L876.9 1112.7L877.9 1110.5L878.9 1107.5L879.9 1103.7L880.9 1101.8L881.9 1098.6L882.9 1095.6L883.9 1092.4L884.9 1090.8L885.9 1088.1L886.9 1084.1L887.9 1081.3L888.9 1078.5L889.9 1075.4L890.9 1073.5L891.9 1069.6L892.9 1067.8L893.9 1062.8L894.9 1060.1L895.9 1058.8L896.9 1055.0L897.9 1050.9L898.9 1050.8L899.9 1046.7L900.9 1043.4L901.9 1038.6L902.9 1037.7L903.9 1034.0L904.9 1030.8L905.9 1027.6L906.9 1023.4L907.9 1020.8L908.9 1018.9L909.9 1016.2L910.9 1012.8L911.9 1009.5L912.9 1006.2L913.9 1003.3L914.9 1001.5L915.9 996.6L916.9 992.1L917.9 990.6L918.9 986.7L919.9 982.9L920.9 979.5L921.9 978.1L922.9 973.6L923.9 970.8L924.9 967.0L925.9 965.6L926.9 960.9L927.9 957.6L928.9 953.3L929.9 950.3L930.9 949.3L931.9 944.0L932.9 942.7L933.9 939.0L934.9 935.5L935.9 932.1L936.9 928.6L937.9 926.5L938.9 922.2L939.9 917.3L940.9 915.2L941.9 913.9L942.9 907.6L943.9 905.5L944.9 902.2L945.9 900.2L946.9 894.7L947.9 893.9L948.9 887.8L949.9 885.9L950.9 881.1L951.9 879.3L952.9 875.1L953.9 870.7L954.9 869.6L955.9 864.7L956.9 863.5L957.9 856.5L958.9 858.0L959.9 852.6L960.9 851.7L961.9 847.1L962.9 842.9L963.9 839.3L964.9 835.6L965.9 834.0L966.9 829.5L967.9 824.4L968.9 822.9L969.9 820.7L970.9 816.9L971.9 813.9L972.9 810.9L973.9 803.6L974.9 804.0L975.9 802.8L976.9 798.0L977.9 793.6L978.9 789.2L979.9 786.7L980.9 787.4L981.9 780.5L982.9 778.9L983.9 774.8L984.9 772.7L985.9 766.6L986.9 762.2L987.9 761.6L988.9 759.2L989.9 752.0L990.9 752.3L991.9 749.9L992.9 746.2L993.9 742.7L994.9 737.0L995.9 735.7L996.9 732.1L997.9 732.4L998.9 728.4L999.9 725.7L1000.9 718.9L1001.9 716.5L1002.9 716.2L1003.9 712.7L1004.9 711.7L1005.9 705.6L1006.9 702.6L1007.9 702.3L1008.9 696.2L1009.9 694.0L1010.9 694.3L1011.9 692.1L1012.9 685.3L1013.9 680.5L1014.9 679.2L1015.9 672.9L1016.9 676.2L1017.9 675.0L1018.9 669.6L1019.9 664.2L1020.9 660.9L1021.9 659.4L1022.9 658.2L1023.9 656.8L1024.9 654.7L1025.9 653.1L1026.9 647.5L1027.9 646.4L1028.9 636.0L1029.9 635.5L1030.9 635.9L1031.9 630.6L1032.9 629.4L1033.9 627.7L1034.9 626.4L1035.9 622.5L1036.9 619.9L1037.9 616.3L1038.9 615.4L1039.9 614.2L1040.9 607.7L1041.9 607.2L1042.9 604.1L1043.9 600.6L1044.9 596.2L1045.9 594.2L1046.9 592.3L1047.9 591.9L1048.9 589.4L1049.9 587.7L1050.9 583.1L1051.9 577.8L1052.9 578.9L1053.9 570.5L1054.9 575.5L1055.9 575.3L1056.9 565.9L1057.9 564.5L1058.9 557.9L1059.9 560.5L1060.9 557.6L1061.9 556.9L1062.9 555.0L1063.9 551.0L1064.9 552.4L1065.9 549.4L1066.9 543.6L1067.9 544.2L1068.9 536.6L1069.9 533.1L1070.9 532.3L1071.9 538.4L1072.9 528.7L1073.9 526.8L1074.9 527.0L1075.9 525.4L1076.9 525.8L1077.9 525.2L1078.9 519.4L1079.9 516.9L1080.9 514.3L1081.9 512.2L1082.9 510.5L1083.9 510.0L1084.9 510.3L1085.9 510.9L1086.9 508.6L1087.9 505.0L1088.9 506.2L1089.9 499.8L1090.9 505.9L1091.9 502.3L1092.9 504.1L1093.9 497.9L1094.9 492.6L1095.9 500.5L1096.9 493.3L1097.9 489.8L1098.9 485.3L1099.9 484.2L1100.9 490.3L1101.9 490.1L1102.9 486.0L1103.9 491.8L1104.9 485.5L1105.9 486.8L1106.9 480.6L1107.9 480.1L1108.9 478.6L1109.9 482.9L1110.9 480.6L1111.9 479.5L1112.9 479.7L1113.9 478.1L1114.9 478.3L1115.9 469.8L1116.9 477.9L1117.9 477.2L1118.9 477.7L1119.9 474.1L1120.9 470.9L1121.9 468.9L1122.9 475.1L1123.9 469.1L1124.9 473.6L1125.9 471.2L1126.9 467.0L1127.9 469.8L1128.9 472.9L1129.9 469.1L1130.9 462.8L1131.9 467.5L1132.9 466.0L1133.9 467.2L1134.9 465.7L1135.9 467.4L1136.9 463.4L1137.9 465.2L1138.9 467.7L1139.9 465.8L1140.9 464.6L1141.9 464.5L1142.9 466.6L1143.9 466.1L1144.9 464.5L1145.9 456.9L1146.9 458.1L1147.9 459.7L1148.9 461.7L1149.9 458.1L1150.9 456.2L1151.9 460.7L1152.9 458.0L1153.9 457.5L1154.9 458.3L1155.9 457.4L1156.9 461.1L1157.9 463.0L1158.9 459.1L1159.9 457.2L1160.9 462.2L1161.9 457.9L1162.9 459.5L1163.9 459.0L1164.9 458.5L1165.9 466.3L1166.9 462.5L1167.9 464.6L1168.9 465.0L1169.9 461.7L1170.9 454.6L1171.9 463.3L1172.9 463.9L1173.9 456.9L1174.9 459.4L1175.9 466.1L1176.9 464.5L1177.9 465.7L1178.9 460.3L1179.9 465.6L1180.9 463.4L1181.9 466.2L1182.9 460.0L1183.9 464.3L1184.9 458.5L1185.9 462.8L1186.9 464.6L1187.9 466.1L1188.9 465.5L1189.9 465.6L1190.9 469.7L1191.9 468.2L1192.9 464.9L1193.9 471.1L1194.9 474.2L1195.9 470.4L1196.9 467.9L1197.9 476.1L1198.9 474.6L1199.9 467.2L1200.9 474.2L1201.9 473.6L1202.9 482.7L1203.9 476.3L1204.9 473.4L1205.9 480.0L1206.9 482.5L1207.9 474.1L1208.9 480.5L1209.9 480.3L1210.9 485.1L1211.9 484.6L1212.9 481.8L1213.9 486.0L1214.9 486.2L1215.9 482.1L1216.9 484.4L1217.9 491.9L1218.9 492.8L1219.9 497.8L1220.9 492.4L1221.9 495.1L1222.9 490.2L1223.9 499.6L1224.9 493.1L1225.9 495.3L1226.9 500.3L1227.9 497.7L1228.9 507.9L1229.9 500.6L1230.9 499.3L1231.9 504.2L1232.9 508.9L1233.9 504.9L1234.9 512.1L1235.9 513.7L1236.9 506.6L1237.9 514.9L1238.9 514.9L1239.9 516.7L1240.9 518.5L1241.9 520.8L1242.9 519.3L1243.9 523.5L1244.9 521.9L1245.9 528.5L1246.9 528.7L1247.9 531.2L1248.9 530.0L1249.9 532.0L1250.9 532.0L1251.9 532.3L1252.9 537.8L1253.9 533.2L1254.9 544.5L1255.9 543.4L1256.9 538.7L1257.9 547.1L1258.9 551.4L1259.9 552.8L1260.9 550.2L1261.9 553.7L1262.9 549.8L1263.7 556.5" fill="none" stroke="#0000FF" stroke-width="5.4" stroke-linejoin="round" stroke-linecap="butt"/>
<path d="M1665.3 1261.5L1666.3 1262.4L1667.3 1264.0L1668.3 1265.3L1669.3 1266.0L1670.3 1267.0L1671.3 1268.4L1672.3 1269.7L1673.3 1271.0L1674.3 1271.5L1675.3 1272.6L1676.3 1274.2L1677.3 1275.3L1678.3 1276.7L1679.3 1277.6L1680.3 1278.4L1681.3 1279.5L1682.3 1281.1L1683.3 1281.6L1684.3 1282.6L1685.3 1283.5L1686.3 1284.9L1687.3 1285.9L1688.3 1286.9L1689.3 1288.0L1690.3 1289.1L1691.3 1290.2L1692.3 1291.3L1693.3 1292.1L1694.3 1292.7L1695.3 1294.3L1696.3 1294.8L1697.3 1296.1L1698.3 1296.8L1699.3 1298.1L1700.3 1298.9L1701.3 1300.1L1702.3 1301.5L1703.3 1302.0L1704.3 1303.1L1705.3 1303.6L1706.3 1304.8L1707.3 1305.9L1708.3 1306.7L1709.3 1307.8L1710.3 1308.7L1711.3 1309.4L1712.3 1310.6L1713.3 1311.3L1714.3 1312.7L1715.3 1313.1L1716.3 1314.3L1717.3 1315.1L1718.3 1316.1L1719.3 1316.7L1720.3 1317.9L1721.3 1318.6L1722.3 1319.7L1723.3 1320.5L1724.3 1321.3L1725.3 1322.0L1726.3 1323.1L1727.3 1323.9L1728.3 1325.0L1729.3 1325.5L1730.3 1326.5L1731.3 1327.4L1732.3 1328.2L1733.3 1329.0L1734.3 1329.8L1735.3 1330.5L1736.3 1331.3L1737.3 1332.2L1738.3 1333.2L1739.3 1334.2L1740.3 1334.9L1741.3 1335.7L1742.3 1336.4L1743.3 1337.2L1744.3 1337.9L1745.3 1338.8L1746.3 1339.8L1747.3 1340.2L1748.3 1340.9L1749.3 1342.2L1750.3 1342.7L1751.3 1343.5L1752.3 1344.3L1753.3 1344.7L1754.3 1346.0L1755.3 1346.7L1756.3 1347.2L1757.3 1348.0L1758.3 1348.7L1759.3 1349.3L1760.3 1350.1L1761.3 1350.9L1762.3 1351.8L1763.3 1352.5L1764.3 1353.1L1765.3 1354.0L1766.3 1354.4L1767.3 1355.3L1768.3 1356.1L1769.3 1356.6L1770.3 1357.1L1771.3 1357.9L1772.3 1358.8L1773.3 1359.5L1774.3 1360.4L1775.3 1360.7L1776.3 1361.5L1777.3 1362.3L1778.3 1362.9L1779.3 1363.3L1780.3 1364.3L1781.3 1365.2L1782.3 1365.7L1783.3 1366.1L1784.3 1366.8L1785.3 1367.6L1786.3 1368.5L1787.3 1368.9L1788.3 1369.5L1789.3 1370.3L1790.3 1370.8L1791.3 1371.7L1792.3 1372.0L1793.3 1372.6L1794.3 1373.4L1795.3 1374.1L1796.3 1374.7L1797.3 1375.2L1798.3 1375.6L1799.3 1376.3L1800.3 1377.0L1801.3 1377.6L1802.3 1378.3L1803.3 1378.8L1804.3 1379.5L1805.3 1380.1L1806.3 1380.6L1807.3 1381.2L1808.3 1381.9L1809.3 1382.5L1810.3 1382.9L1811.3 1383.5L1812.3 1384.0L1813.3 1384.9L1814.3 1385.5L1815.3 1385.8L1816.3 1386.4L1817.3 1386.9L1818.3 1387.6L1819.3 1388.1L1820.3 1388.9L1821.3 1389.2L1822.3 1389.7L1823.3 1390.1L1824.3 1391.0L1825.3 1391.4L1826.3 1391.8L1827.3 1392.5L1828.3 1392.8L1829.3 1393.8L1830.3 1394.2L1831.3 1394.6L1832.3 1395.1L1833.3 1395.4L1834.3 1396.1L1835.3 1396.5L1836.3 1397.2L1837.3 1397.5L1838.3 1398.1L1839.3 1398.8L1840.3 1399.4L1841.3 1399.6L1842.3 1400.0L1843.3 1400.8L1844.3 1401.2L1845.3 1401.5L1846.3 1402.1L1847.3 1402.5L1848.3 1403.0L1849.3 1403.5L1850.3 1404.2L1851.3 1404.6L1852.3 1405.2L1853.3 1405.4L1854.3 1405.9L1855.3 1406.3L1856.3 1406.8L1857.3 1407.2L1858.3 1407.6L1859.3 1408.3L1860.3 1408.8L1861.3 1409.2L1862.3 1409.7L1863.3 1410.0L1864.3 1410.4L1865.3 1410.9L1866.3 1411.3L1867.3 1411.6L1868.3 1412.0L1869.3 1412.4L1870.3 1413.0L1871.3 1413.4L1872.3 1413.8L1873.3 1414.4L1874.3 1414.7L1875.3 1415.1L1876.3 1415.6L1877.3 1415.8L1878.3 1416.1L1879.3 1416.8L1880.3 1417.1L1881.3 1417.6L1882.3 1417.9L1883.3 1418.4L1884.3 1418.8L1885.3 1418.9L1886.3 1419.5L1887.3 1419.8L1888.3 1420.2L1889.3 1420.6L1890.3 1421.0L1891.3 1421.4L1892.3 1421.8L1893.3 1422.0L1894.3 1422.4L1895.3 1422.6L1896.3 1423.2L1897.3 1423.6L1898.3 1423.8L1899.3 1424.3L1900.3 1424.6L1901.3 1425.0L1902.3 1425.2L1903.3 1425.6L1904.3 1425.9L1905.3 1426.5L1906.3 1426.8L1907.3 1427.0L1908.3 1427.4L1909.3 1427.7L1910.3 1428.0L1911.3 1428.3L1912.3 1428.6L1913.3 1428.9L1914.3 1429.2L1915.3 1429.7L1916.3 1430.0L1917.3 1430.2L1918.3 1430.5L1919.3 1430.9L1920.3 1431.2L1921.3 1431.4L1922.3 1431.8L1923.3 1432.1L1924.3 1432.3L1925.3 1432.6L1926.3 1432.9L1927.3 1433.2L1928.3 1433.6L1929.3 1433.7L1930.3 1434.1L1931.3 1434.3L1932.3 1434.6L1933.3 1434.9L1934.3 1435.3L1935.3 1435.5L1936.3 1435.7L1937.3 1436.0L1938.3 1436.3L1939.3 1436.6L1940.3 1436.8L1941.3 1437.0L1942.3 1437.2L1943.3 1437.5L1944.3 1437.7L1945.3 1438.2L1946.3 1438.4L1947.3 1438.6L1948.3 1438.9L1949.3 1439.0L1950.3 1439.4L1951.3 1439.6L1952.3 1439.7L1953.3 1439.9L1954.3 1440.2L1955.3 1440.5L1956.3 1440.8L1957.3 1440.8L1958.3 1441.2L1959.3 1441.3L1960.3 1441.5L1961.3 1441.7L1962.3 1442.0L1963.3 1442.1L1964.3 1442.3L1965.3 1442.5L1966.3 1442.8L1967.3 1443.2L1968.3 1443.4L1969.3 1443.4L1970.3 1443.5L1971.3 1443.8L1972.3 1443.9L1973.3 1444.3L1974.3 1444.4L1975.3 1444.5L1976.3 1444.8L1977.3 1444.9L1978.3 1445.0L1979.3 1445.2L1980.3 1445.4L1981.3 1445.6L1982.3 1445.8L1983.3 1445.9L1984.3 1446.1L1985.3 1446.2L1986.3 1446.4L1987.3 1446.7L1988.3 1446.8L1989.3 1446.9L1990.3 1446.9L1991.3 1447.2L1992.3 1447.4L1993.3 1447.4L1994.3 1447.7L1995.3 1447.7L1996.3 1447.9L1997.3 1448.0L1998.3 1448.2L1999.3 1448.4L2000.3 1448.4L2001.3 1448.6L2002.3 1448.6L2003.3 1448.7L2004.3 1449.0L2005.3 1449.0L2006.3 1449.1L2007.3 1449.3L2008.3 1449.5L2009.3 1449.4L2010.3 1449.6L2011.3 1449.8L2012.3 1449.9L2013.3 1449.9L2014.3 1450.0L2015.3 1450.1L2016.3 1450.1L2017.3 1450.3L2018.3 1450.4L2019.3 1450.5L2020.3 1450.6L2021.3 1450.6L2022.3 1450.6L2023.3 1450.9L2024.3 1450.8L2025.3 1450.9L2026.3 1451.0L2027.3 1451.1" fill="none" stroke="#0000FF" stroke-width="5.4" stroke-linejoin="round" stroke-linecap="butt"/>
<path d="M763.6 1327.7L764.6 1325.8L765.6 1324.8L766.6 1323.1L767.6 1321.5L768.6 1320.4L769.6 1318.6L770.6 1316.9L771.6 1315.9L772.6 1313.7L773.6 1311.9L774.6 1310.3L775.6 1308.9L776.6 1307.7L777.6 1306.1L778.6 1304.6L779.6 1303.2L780.6 1301.5L781.6 1299.5L782.6 1298.1L783.6 1296.2L784.6 1294.2L785.6 1293.0L786.6 1291.0L787.6 1289.3L788.6 1288.3L789.6 1286.2L790.6 1284.0L791.6 1282.5L792.6 1281.5L793.6 1278.9L794.6 1277.5L795.6 1275.7L796.6 1273.9L797.6 1272.2L798.6 1270.0L799.6 1268.2L800.6 1266.5L801.6 1264.7L802.6 1263.3L803.6 1261.7L804.6 1259.0L805.6 1257.7L806.6 1255.2L807.6 1253.5L808.6 1251.8L809.6 1250.0L810.6 1247.9L811.6 1245.3L812.6 1244.8L813.6 1242.2L814.6 1240.2L815.6 1238.7L816.6 1236.3L817.6 1234.0L818.6 1232.8L819.6 1230.8L820.6 1228.3L821.6 1227.0L822.6 1224.8L823.6 1222.1L824.6 1221.3L825.6 1218.6L826.6 1215.9L827.6 1214.6L828.6 1212.3L829.6 1210.6L830.6 1207.5L831.6 1206.5L832.6 1204.3L833.6 1202.1L834.6 1199.9L835.6 1198.1L836.6 1195.6L837.6 1193.2L838.6 1190.5L839.6 1189.2L840.6 1187.0L841.6 1184.4L842.6 1182.1L843.6 1180.1L844.6 1176.4L845.6 1175.4L846.6 1171.8L847.6 1170.8L848.6 1168.9L849.6 1167.0L850.6 1163.5L851.6 1161.6L852.6 1159.0L853.6 1155.4L854.6 1154.6L855.6 1151.8L856.6 1149.5L857.6 1146.5L858.6 1144.5L859.6 1142.2L860.6 1140.4L861.6 1137.3L862.6 1135.9L863.6 1132.0L864.6 1129.5L865.6 1127.1L866.6 1124.1L867.6 1122.9L868.6 1119.9L869.6 1116.1L870.6 1114.4L871.6 1112.4L872.6 1108.2L873.6 1106.5L874.6 1103.6L875.6 1102.4L876.6 1098.7L877.6 1095.5L878.6 1092.7L879.6 1091.5L880.6 1087.3L881.6 1086.2L882.6 1081.0L883.6 1079.2L884.6 1076.3L885.6 1073.2L886.6 1070.7L887.6 1068.5L888.6 1064.7L889.6 1061.4L890.6 1060.4L891.6 1057.6L892.6 1053.2L893.6 1051.0L894.6 1046.3L895.6 1045.6L896.6 1041.0L897.6 1038.6L898.6 1037.6L899.6 1032.1L900.6 1030.0L901.6 1026.2L902.6 1022.5L903.6 1020.0L904.6 1018.0L905.6 1013.7L906.6 1011.2L907.6 1009.1L908.6 1005.3L909.6 1001.3L910.6 1000.4L911.6 996.1L912.6 994.0L913.6 988.8L914.6 987.9L915.6 982.2L916.6 978.7L917.6 976.5L918.6 973.4L919.6 970.7L920.6 966.7L921.6 964.5L922.6 961.8L923.6 956.8L924.6 952.9L925.6 950.5L926.6 948.2L927.6 944.9L928.6 940.6L929.6 936.6L930.6 934.2L931.6 931.8L932.6 926.8L933.6 925.4L934.6 921.0L935.6 917.7L936.6 913.4L937.6 912.0L938.6 907.3L939.6 902.4L940.6 901.3L941.6 896.7L942.6 894.8L943.6 890.5L944.6 886.2L945.6 883.7L946.6 879.6L947.6 875.8L948.6 873.3L949.6 870.7L950.6 866.5L951.6 862.9L952.6 859.0L953.6 856.8L954.6 853.0L955.6 850.4L956.6 846.3L957.6 844.8L958.6 837.3L959.6 835.6L960.6 832.9L961.6 829.9L962.6 823.7L963.6 820.7L964.6 818.6L965.6 816.5L966.6 813.2L967.6 806.8L968.6 805.3L969.6 803.2L970.6 798.5L971.6 793.9L972.6 790.9L973.6 786.8L974.6 786.6L975.6 781.5L976.6 778.0L977.6 774.1L978.6 771.7L979.6 767.5L980.6 764.1L981.6 762.0L982.6 758.6L983.6 756.2L984.6 752.6L985.6 750.7L986.6 745.9L987.6 743.1L988.6 739.9L989.6 735.3L990.6 734.8L991.6 729.3L992.6 724.8L993.6 725.5L994.6 721.6L995.6 716.8L996.6 715.8L997.6 712.7L998.6 709.3L999.6 703.6L1000.6 702.5L1001.6 697.7L1002.6 695.3L1003.6 692.4L1004.6 689.0L1005.6 688.0L1006.6 683.1L1007.6 682.2L1008.6 678.7L1009.6 674.6L1010.6 672.8L1011.6 670.7L1012.6 668.5L1013.6 663.6L1014.6 663.7L1015.6 659.1L1016.6 657.3L1017.6 650.6L1018.6 648.2L1019.6 648.9L1020.6 644.0L1021.6 642.3L1022.6 640.7L1023.6 633.8L1024.6 634.1L1025.6 633.7L1026.6 629.3L1027.6 625.5L1028.6 623.6L1029.6 620.1L1030.6 618.7L1031.6 616.9L1032.6 611.8L1033.6 610.6L1034.6 607.5L1035.6 605.7L1036.6 603.3L1037.6 597.7L1038.6 598.8L1039.6 595.8L1040.6 590.1L1041.6 588.9L1042.6 584.5L1043.6 584.0L1044.6 582.6L1045.6 577.7L1046.6 575.9L1047.6 573.3L1048.6 571.2L1049.6 568.7L1050.6 565.8L1051.6 566.3L1052.6 562.6L1053.6 559.2L1054.6 560.1L1055.6 555.0L1056.6 555.3L1057.6 549.3L1058.6 551.7L1059.6 546.1L1060.6 543.0L1061.6 543.2L1062.6 537.8L1063.6 536.1L1064.6 536.2L1065.6 532.7L1066.6 532.2L1067.6 529.5L1068.6 527.6L1069.6 525.2L1070.6 524.1L1071.6 520.7L1072.6 520.6L1073.6 518.2L1074.6 510.8L1075.6 509.1L1076.6 513.1L1077.6 507.3L1078.6 506.4L1079.6 503.8L1080.6 502.5L1081.6 504.0L1082.6 496.6L1083.6 496.1L1084.6 494.0L1085.6 489.9L1086.6 488.3L1087.6 487.5L1088.6 486.0L1089.6 484.8L1090.6 478.4L1091.6 477.2L1092.6 481.5L1093.6 476.1L1094.6 476.2L1095.6 471.9L1096.6 469.5L1097.6 473.2L1098.6 464.9L1099.6 463.7L1100.6 465.1L1101.6 462.1L1102.6 457.1L1103.6 459.0L1104.6 458.5L1105.6 452.5L1106.6 452.8L1107.6 454.0L1108.6 454.7L1109.6 445.0L1110.6 446.6L1111.6 446.6L1112.6 443.3L1113.6 442.0L1114.6 441.5L1115.6 442.2L1116.6 437.8L1117.6 440.4L1118.6 439.1L1119.6 438.0L1120.6 438.2L1121.6 432.9L1122.6 432.8L1123.6 433.9L1124.6 433.3L1125.6 431.7L1126.6 427.8L1127.6 426.8L1128.6 424.1L1129.6 425.0L1130.6 423.2L1131.6 423.1L1132.6 422.5L1133.6 424.2L1134.6 423.4L1135.6 420.7L1136.6 417.7L1137.6 419.2L1138.6 419.5L1139.6 419.7L1140.6 417.7L1141.6 418.2L1142.6 414.6L1143.6 416.6L1144.6 416.2L1145.6 413.4L1146.6 411.9L1147.6 415.5L1148.6 410.3L1149.6 413.3L1150.6 410.8L1151.6 410.2L1152.6 409.9L1153.6 409.0L1154.6 409.4L1155.6 412.8L1156.6 411.7L1157.6 408.0L1158.6 408.8L1159.6 409.4L1160.6 406.2L1161.6 410.6L1162.6 406.5L1163.6 407.4L1164.6 403.8L1165.6 403.1L1166.6 403.1L1167.6 403.6L1168.6 406.8L1169.6 403.7L1170.6 406.0L1171.6 403.1L1172.6 401.7L1173.6 403.9L1174.6 402.5L1175.6 399.7L1176.6 403.1L1177.6 405.4L1178.6 402.3L1179.6 400.1L1180.6 400.9L1181.6 399.9L1182.6 401.8L1183.6 400.3L1184.6 402.0L1185.6 402.6L1186.6 405.0L1187.6 399.7L1188.6 397.9L1189.6 405.6L1190.6 403.2L1191.6 401.5L1192.6 403.4L1193.6 400.5L1194.6 401.8L1195.6 404.1L1196.6 402.1L1197.6 403.2L1198.6 404.0L1199.6 403.5L1200.6 402.9L1201.6 404.7L1202.6 406.7L1203.6 406.8L1204.6 402.6L1205.6 406.3L1206.6 401.0L1207.6 402.4L1208.6 406.5L1209.6 407.2L1210.6 409.3L1211.6 403.2L1212.6 409.5L1213.6 406.6L1214.6 407.2L1215.6 409.6L1216.6 412.1L1217.6 407.7L1218.6 406.7L1219.6 409.6L1220.6 411.2L1221.6 414.6L1222.6 413.5L1223.6 412.8L1224.6 413.0L1225.6 413.8L1226.6 417.6L1227.6 412.9L1228.6 415.7L1229.6 416.2L1230.6 421.2L1231.6 420.0L1232.6 419.3L1233.6 423.2L1234.6 426.7L1235.6 425.8L1236.6 422.2L1237.6 425.5L1238.6 429.4L1239.6 424.6L1240.6 427.0L1241.6 429.9L1242.6 433.1L1243.6 431.7L1244.6 435.0L1245.6 435.7L1246.6 438.1L1247.6 436.4L1248.6 435.8L1249.6 437.4L1250.6 443.5L1251.6 446.7L1252.6 447.2L1253.6 444.5L1254.6 445.8L1255.6 450.2L1256.6 450.4L1257.6 450.1L1258.6 454.1L1259.6 455.2L1260.6 458.0L1261.6 460.5L1262.6 461.6L1263.6 463.1L1264.6 465.2L1265.6 465.5L1266.6 466.3L1267.6 468.0L1268.6 472.4L1269.6 471.1L1270.6 474.7L1271.6 477.8L1272.6 479.4L1273.6 473.4L1274.6 479.3L1275.6 482.3L1276.6 481.1L1277.6 482.1L1278.6 482.2L1279.6 485.1L1280.6 487.8L1281.6 485.7L1282.6 490.7L1283.6 490.6L1284.6 493.7L1285.6 493.1L1286.6 496.7L1287.6 498.3L1288.6 498.2L1289.6 499.6L1290.6 504.1L1291.6 505.0L1292.6 503.8L1293.6 507.5L1294.6 506.0L1295.6 508.6L1296.6 507.0L1297.6 511.4L1298.6 515.2L1299.6 514.5L1300.6 517.9L1301.6 517.1L1302.6 520.3L1303.6 520.9L1304.6 520.8L1305.6 527.8L1306.6 524.0L1307.6 524.5L1308.6 528.6L1309.6 530.7L1310.6 531.9L1311.6 532.5L1312.6 535.0L1313.6 537.2L1314.6 538.1L1315.6 536.0L1316.6 543.0L1317.6 541.3L1318.6 539.2L1319.6 545.7L1320.6 545.4L1321.6 547.6L1322.6 552.0L1323.6 549.1L1324.6 550.4L1325.6 551.2L1326.6 554.7L1327.6 557.0L1328.6 557.9L1329.6 559.0L1330.6 556.5L1331.6 562.1L1332.6 564.9L1333.6 563.7L1334.6 565.1L1335.6 565.7L1336.6 569.3L1337.6 567.7L1338.6 575.1L1339.6 573.0L1340.6 573.8L1341.6 574.2L1342.6 578.6L1343.6 580.8L1344.6 579.7L1345.6 582.4L1346.6 584.1L1347.6 586.7L1348.6 587.5L1349.6 590.0L1350.6 587.2L1351.6 594.6L1352.6 591.6L1353.6 592.1L1354.6 593.9L1355.6 597.5L1356.6 599.7L1357.6 603.4L1358.6 603.4L1359.6 601.7L1360.6 603.8L1361.6 605.2L1362.6 606.4L1363.6 608.6L1364.6 609.4L1365.6 613.8L1366.6 614.0L1367.6 616.0L1368.6 616.3L1369.6 616.2L1370.6 620.3L1371.6 620.5L1372.6 625.8L1373.6 626.1L1374.6 623.8L1375.6 625.7L1376.6 628.0L1377.6 630.0L1378.6 633.7L1379.6 633.2L1380.6 635.8L1381.6 636.1L1382.6 637.9L1383.6 641.6L1384.6 641.4L1385.6 645.9L1386.6 644.4L1387.6 646.7L1388.6 648.3L1389.6 650.3L1390.6 653.8L1391.6 651.5L1392.6 653.3L1393.6 654.4L1394.6 660.1L1395.6 659.7L1396.6 661.3L1397.6 663.0L1398.6 661.2L1399.6 666.7L1400.6 667.4L1401.6 669.4L1402.6 670.7L1403.6 672.1L1404.6 673.8L1405.6 674.8L1406.6 677.0L1407.6 679.9L1408.6 677.7L1409.6 683.6L1410.6 685.1L1411.6 684.4L1412.6 688.3L1413.6 689.8L1414.6 690.4L1415.6 695.2L1416.6 694.9L1417.6 696.2L1418.6 696.3L1419.6 703.0L1420.6 702.0L1421.6 704.0L1422.6 705.0L1423.6 710.0L1424.6 708.8L1425.6 712.9L1426.6 714.1L1427.6 715.8L1428.6 717.2L1429.6 719.7L1430.6 719.8L1431.6 719.1L1432.6 720.8L1433.6 727.1L1434.6 724.8L1435.6 731.2L1436.6 734.2L1437.6 730.7L1438.6 735.9L1439.6 737.6L1440.6 738.0L1441.6 738.3L1442.6 742.7L1443.6 746.9L1444.6 746.6L1445.6 748.6L1446.6 750.7L1447.6 752.6L1448.6 754.9L1449.6 759.3L1450.6 757.4L1451.6 758.2L1452.6 763.6L1453.6 763.9L1454.6 765.9L1455.6 766.8L1456.6 770.3L1457.6 772.1L1458.6 775.2L1459.6 776.2L1460.6 776.9L1461.6 781.4L1462.6 782.7L1463.6 782.6L1464.6 786.5L1465.6 789.9L1466.6 791.0L1467.6 792.8L1468.6 796.0L1469.6 796.6L1470.6 798.6L1471.6 802.2L1472.6 803.5L1473.6 805.1L1474.6 808.2L1475.6 810.3L1476.6 813.2L1477.6 815.4L1478.6 816.5L1479.6 818.5L1480.6 819.6L1481.6 823.1L1482.6 824.6L1483.6 828.1L1484.6 830.2L1485.6 832.2L1486.6 833.6L1487.6 836.2L1488.6 839.6L1489.6 842.0L1490.6 841.7L1491.6 842.1L1492.6 847.3L1493.6 847.2L1494.6 851.1L1495.6 853.7L1496.6 857.0L1497.6 857.4L1498.6 859.7L1499.6 861.4L1500.6 864.5L1501.6 865.1L1502.6 869.2L1503.6 871.2L1504.6 874.4L1505.6 874.9L1506.6 877.8L1507.6 879.8L1508.6 881.8L1509.6 883.1L1510.6 885.7L1511.6 888.5L1512.6 891.2L1513.6 893.9L1514.6 894.5L1515.6 897.6L1516.6 900.1L1517.6 902.6L1518.6 904.2L1519.6 906.4L1520.6 908.0L1521.6 910.6L1522.6 912.6L1523.6 913.3L1524.6 916.5L1525.6 917.3L1526.6 922.1L1527.6 924.6L1528.6 925.7L1529.6 928.4L1530.6 930.5L1531.6 932.4L1532.6 936.1L1533.6 936.8L1534.6 939.4L1535.6 941.3L1536.6 945.3L1537.6 944.2L1538.6 948.0L1539.6 948.9L1540.6 951.6L1541.6 953.5L1542.6 957.2L1543.6 957.7L1544.6 960.0L1545.6 962.7L1546.6 964.3L1547.6 966.4L1548.6 970.8L1549.6 971.0L1550.6 973.0L1551.6 977.0L1552.6 978.0L1553.6 981.0L1554.6 980.8L1555.6 984.0L1556.6 986.8L1557.6 988.7L1558.6 991.0L1559.6 993.7L1560.6 995.2L1561.6 997.7L1562.6 999.5L1563.6 1000.4L1564.6 1003.2L1565.6 1006.1L1566.6 1006.5L1567.6 1009.7L1568.6 1011.8L1569.6 1014.3L1570.6 1014.1L1571.6 1019.0L1572.6 1018.2L1573.6 1021.4L1574.6 1025.1L1575.6 1024.4L1576.6 1029.0L1577.6 1029.6L1578.6 1032.8L1579.6 1034.5L1580.6 1035.5L1581.6 1036.8L1582.6 1039.1L1583.6 1040.3L1584.6 1042.2L1585.6 1045.4L1586.6 1046.1L1587.6 1049.3L1588.6 1050.9L1589.6 1052.8L1590.6 1054.1L1591.6 1055.8L1592.6 1059.1L1593.6 1059.8L1594.6 1062.0L1595.6 1064.1L1596.6 1066.5L1597.6 1069.3L1598.6 1071.1L1599.6 1072.2L1600.6 1073.9L1601.6 1075.8L1602.6 1077.0L1603.6 1078.8L1604.6 1079.7L1605.6 1083.0L1606.6 1084.1L1607.6 1086.4L1608.6 1089.4L1609.6 1090.3L1610.6 1092.3L1611.6 1093.8L1612.6 1094.7L1613.6 1096.4L1614.6 1097.6L1615.6 1099.9L1616.6 1102.1L1617.6 1104.1L1618.6 1105.8L1619.6 1106.9L1620.6 1108.2L1621.6 1110.6L1622.6 1112.4L1623.6 1112.7L1624.6 1115.6L1625.6 1116.4L1626.6 1118.6L1627.6 1120.5L1628.6 1121.6L1629.6 1123.5L1630.6 1125.5L1631.6 1126.5L1632.6 1129.1L1633.6 1130.7L1634.6 1132.2L1635.6 1132.9L1636.6 1135.0L1637.6 1136.5L1638.6 1138.3L1639.6 1140.2L1640.6 1141.1L1641.6 1142.9L1642.6 1144.9L1643.6 1145.8L1644.6 1147.9L1645.6 1149.0L1646.6 1149.8L1647.6 1152.0L1648.6 1153.6L1649.6 1154.8L1650.6 1157.5L1651.6 1157.8L1652.6 1158.7L1653.6 1160.9L1654.6 1162.3L1655.6 1164.1L1656.6 1166.4L1657.6 1166.8L1658.6 1168.6L1659.6 1169.3L1660.6 1170.6L1661.6 1172.1L1662.6 1173.8L1663.6 1175.0L1664.6 1176.6L1665.6 1177.7L1666.6 1178.8L1667.6 1180.4L1668.6 1182.5L1669.6 1183.0L1670.6 1185.2L1671.6 1187.0L1672.6 1187.1L1673.6 1189.3L1674.6 1190.6L1675.6 1190.5L1676.6 1193.2L1677.6 1194.5L1678.6 1195.1L1679.6 1197.6L1680.6 1197.2L1681.6 1199.9L1682.6 1200.7L1683.6 1201.4L1684.6 1203.2L1685.6 1203.7L1686.6 1205.9L1687.6 1207.1L1688.6 1208.7L1689.6 1210.0L1690.6 1210.3L1691.6 1212.0L1692.6 1212.8L1693.6 1213.3L1694.6 1215.9L1695.6 1217.1L1696.6 1217.9L1697.6 1219.8L1698.6 1220.2L1699.6 1220.6L1700.6 1222.3L1701.6 1223.6L1702.6 1225.0L1703.6 1225.8L1704.6 1226.2L1705.6 1227.8L1706.6 1229.4L1707.6 1231.0L1708.6 1231.4L1709.6 1232.3L1710.6 1233.7L1711.6 1235.4L1712.6 1236.6L1713.6 1236.8L1714.6 1238.6L1715.6 1239.9L1716.6 1240.8L1717.6 1241.1L1718.6 1242.8L1719.6 1243.5L1720.6 1244.5L1721.6 1246.5L1722.6 1246.8L1723.6 1248.0L1724.6 1249.3L1725.6 1250.5L1726.6 1251.0L1727.6 1251.7L1728.6 1252.9L1729.6 1253.7L1730.6 1254.9L1731.6 1255.9L1732.6 1256.4L1733.6 1257.7L1734.6 1258.4L1735.6 1259.9L1736.6 1261.2L1737.6 1262.1L1738.6 1262.9L1739.6 1263.4L1740.6 1264.7L1741.6 1265.2L1742.6 1266.8L1743.6 1267.0L1744.6 1268.3L1745.6 1270.0L1746.6 1270.5L1747.6 1270.9L1748.6 1272.1L1749.6 1272.7L1750.6 1273.7L1751.6 1274.8L1752.6 1275.5L1753.6 1276.7L1754.6 1277.9L1755.6 1278.2L1756.6 1279.0L1757.6 1279.9L1758.6 1280.9L1759.6 1282.0L1760.6 1282.6L1761.6 1283.3L1762.6 1284.3L1763.6 1285.7L1764.6 1286.5L1765.6 1287.4L1766.6 1287.9L1767.6 1288.4L1768.6 1289.9L1769.6 1291.0L1770.6 1290.9L1771.6 1291.7L1772.6 1293.1L1773.6 1293.8L1774.6 1294.5L1775.6 1295.8L1776.6 1295.9L1777.6 1296.5L1778.6 1297.4L1779.6 1298.3L1780.6 1299.1L1781.6 1300.2L1782.6 1300.8L1783.6 1301.1L1784.6 1302.3L1785.6 1302.8L1786.6 1304.1L1787.6 1304.7L1788.6 1304.9L1789.6 1306.0L1790.6 1306.2L1791.6 1307.4L1792.6 1308.0L1793.6 1308.9L1794.6 1309.1L1795.6 1309.9L1796.6 1310.7L1797.6 1311.5L1798.6 1312.5L1799.6 1312.7L1800.6 1313.1L1801.6 1314.2L1802.6 1315.3L1803.6 1316.0L1804.6 1316.1L1805.6 1317.3L1806.6 1317.8L1807.6 1318.7L1808.6 1319.2L1809.6 1320.2L1810.6 1320.3L1811.6 1321.7L1812.6 1322.1L1813.6 1322.1L1814.6 1322.6L1815.6 1324.0L1816.6 1323.9L1817.6 1324.8L1818.6 1325.8L1819.6 1326.2L1820.6 1326.9L1821.6 1326.9L1822.6 1327.9L1823.6 1328.9L1824.6 1330.0L1825.6 1330.1L1826.6 1330.6L1827.6 1331.3L1828.6 1332.1L1829.6 1332.6L1830.6 1332.8L1831.6 1333.1L1832.6 1334.1L1833.6 1334.7L1834.6 1335.9L1835.6 1335.7L1836.6 1336.7L1837.6 1336.6L1838.6 1337.9L1839.6 1337.9L1840.6 1338.8L1841.6 1339.3L1842.6 1340.0L1843.6 1340.5L1844.6 1340.8L1845.6 1341.8L1846.6 1341.9L1847.6 1342.7L1848.6 1343.0L1849.6 1343.8L1850.6 1344.3L1851.6 1344.8L1852.6 1345.2L1853.6 1346.2L1854.6 1346.4L1855.6 1347.0L1856.6 1346.9L1857.6 1348.1L1858.6 1348.1L1859.6 1349.0L1860.6 1349.0L1861.6 1350.5L1862.6 1350.1L1863.6 1351.0L1864.6 1351.2L1865.6 1351.7L1866.6 1352.1L1867.6 1353.4L1868.6 1354.0L1869.6 1353.9L1870.6 1354.7L1871.6 1354.8L1872.6 1355.1L1873.6 1356.3L1874.6 1356.5L1875.6 1356.5L1876.6 1357.3L1877.6 1357.7L1878.6 1358.1L1879.6 1358.6L1880.6 1359.0L1881.6 1359.5L1882.6 1359.9L1883.6 1360.4L1884.6 1360.7L1885.6 1361.7L1886.6 1361.7L1887.6 1362.2L1888.6 1362.7L1889.6 1363.1L1890.6 1363.2L1891.6 1364.1L1892.6 1364.1L1893.6 1364.6L1894.6 1365.3L1895.6 1365.5L1896.6 1365.8L1897.6 1366.4L1898.6 1366.6L1899.6 1367.1L1900.6 1367.3L1901.6 1367.7L1902.6 1368.2L1903.6 1368.8L1904.6 1369.1L1905.6 1369.5L1906.6 1370.2L1907.6 1370.2L1908.6 1370.3L1909.6 1371.1L1910.6 1371.9L1911.6 1371.4L1912.6 1372.1L1913.6 1372.3L1914.6 1372.6L1915.6 1373.5L1916.6 1373.6L1917.6 1374.0L1918.6 1374.1L1919.6 1374.6L1920.6 1374.8L1921.6 1375.7L1922.6 1375.7L1923.6 1375.7L1924.6 1376.4L1925.6 1377.1L1926.6 1376.9L1927.6 1377.4L1928.6 1377.8L1929.6 1378.2L1930.6 1378.5L1931.6 1378.6L1932.6 1379.0L1933.6 1379.5L1934.6 1379.5L1935.6 1379.9L1936.6 1380.4L1937.6 1380.6L1938.6 1380.7L1939.6 1381.6L1940.6 1381.5L1941.6 1381.8L1942.6 1381.7L1943.6 1382.6L1944.6 1382.9L1945.6 1383.0L1946.6 1383.3L1947.6 1383.4L1948.6 1384.2L1949.6 1384.3L1950.6 1384.8L1951.6 1385.1L1952.6 1384.5L1953.6 1385.3L1954.6 1385.0L1955.6 1385.8L1956.6 1386.0L1957.6 1386.1L1958.6 1386.6L1959.6 1386.7L1960.6 1386.9L1961.6 1387.2L1962.6 1387.6L1963.6 1387.8L1964.6 1388.1L1965.6 1388.2L1966.6 1388.3L1967.6 1388.5L1968.6 1388.9L1969.6 1388.9L1970.6 1389.2L1971.6 1389.7L1972.6 1389.8L1973.6 1389.9L1974.6 1390.2L1975.6 1390.3L1976.6 1390.9L1977.6 1390.8L1978.6 1391.0L1979.6 1391.0L1980.6 1391.3L1981.6 1391.4L1982.6 1391.9L1983.6 1392.1L1984.6 1392.3L1985.6 1392.3L1986.6 1392.6L1987.6 1392.8L1988.6 1392.8L1989.6 1392.8L1990.6 1393.7L1991.6 1393.5L1992.6 1393.8L1993.6 1393.9L1994.6 1393.8L1995.6 1394.1L1996.6 1394.2L1997.6 1394.6L1998.6 1394.6L1999.6 1394.6L2000.6 1394.9L2001.6 1395.5L2002.6 1395.2L2003.6 1395.4L2004.6 1395.8L2005.6 1395.4L2006.6 1395.8L2007.6 1396.1L2008.6 1396.1L2009.6 1396.0L2010.6 1396.2L2011.6 1396.4L2012.6 1396.6L2013.6 1396.8L2014.6 1396.3L2015.6 1396.8L2016.6 1396.8L2017.6 1397.1L2018.6 1397.0L2019.6 1397.3L2020.6 1397.0L2021.6 1397.5L2022.6 1397.6L2023.6 1397.8L2024.6 1398.0L2025.6 1397.8L2026.6 1397.7L2027.3 1397.9" fill="none" stroke="#008080" stroke-width="5.4" stroke-linejoin="round" stroke-linecap="butt"/>
<path d="M762.1 1046.4L763.1 1043.5L764.1 1044.0L765.1 1036.7L766.1 1032.0L767.1 1033.4L768.1 1031.5L769.1 1028.3L770.1 1025.9L771.1 1021.8L772.1 1018.1L773.1 1015.0L774.1 1013.4L775.1 1010.3L776.1 1010.4L777.1 1007.0L778.1 1000.1L779.1 1001.7L780.1 997.3L781.1 997.1L782.1 995.2L783.1 990.3L784.1 982.2L785.1 985.0L786.1 977.0L787.1 981.5L788.1 973.5L789.1 971.8L790.1 973.8L791.1 962.4L792.1 963.8L793.1 958.3L794.1 956.8L795.1 953.3L796.1 954.1L797.1 948.8L798.1 947.6L799.1 945.5L800.1 936.6L801.1 941.7L802.1 934.6L803.1 928.1L804.1 927.8L805.1 928.9L806.1 926.4L807.1 919.0L808.1 918.2L809.1 915.7L810.1 915.0L811.1 908.9L812.1 909.0L813.1 900.9L814.1 898.4L815.1 899.4L816.1 896.7L817.1 891.5L818.1 890.5L819.1 886.4L820.1 885.1L821.1 883.3L822.1 878.4L823.1 876.4L824.1 869.8L825.1 866.3L826.1 858.1L827.1 863.3L828.1 859.2L829.1 857.7L830.1 847.3L831.1 848.6L832.1 845.3L833.1 838.4L834.1 844.0L835.1 842.0L836.1 830.9L837.1 833.5L838.1 834.6L839.1 822.0L840.1 826.2L841.1 825.2L842.1 823.1L843.1 809.2L844.1 807.2L845.1 808.4L846.1 808.8L847.1 797.3L848.1 795.9L849.1 791.6L850.1 796.3L851.1 787.4L852.1 788.3L853.1 785.5L854.1 784.2L855.1 778.5L856.1 775.1L857.1 775.0L858.1 769.4L859.1 759.9L860.1 759.5L861.1 761.8L862.1 755.8L863.1 750.8L864.1 750.0L865.1 753.7L866.1 742.6L867.1 741.5L868.1 738.3L869.1 732.3L870.1 734.9L871.1 730.5L872.1 725.6L873.1 715.4L874.1 722.7L875.1 717.6L876.1 711.0L877.1 699.0L878.1 704.8L879.1 696.9L880.1 697.8L881.1 693.4L882.1 688.9L883.1 693.5L884.1 686.5L885.1 688.1L886.1 675.5L887.1 675.7L888.1 679.2L889.1 671.6L890.1 663.8L891.1 659.9L892.1 658.0L893.1 657.1L894.1 657.4L895.1 651.8L896.1 651.4L897.1 648.7L898.1 642.2L899.1 644.4L900.1 638.8L901.1 631.4L902.1 628.3L903.1 625.9L904.1 619.4L905.1 613.4L906.1 616.8L907.1 611.0L908.1 613.2L909.1 604.4L910.1 604.6L911.1 602.0L912.1 595.7L913.1 595.8L914.1 588.2L915.1 586.6L916.1 589.6L917.1 584.5L918.1 579.5L919.1 572.6L920.1 577.0L921.1 580.6L922.1 556.3L923.1 569.8L924.1 562.5L925.1 564.1L926.1 561.5L927.1 547.2L928.1 558.6L929.1 543.4L930.1 542.3L931.1 544.0L932.1 537.3L933.1 536.3L934.1 529.1L935.1 523.4L936.1 526.2L937.1 517.3L938.1 527.7L939.1 518.9L940.1 522.4L941.1 505.0L942.1 497.5L943.1 493.7L944.1 501.3L945.1 493.4L946.1 499.9L947.1 486.8L948.1 484.4L949.1 491.2L950.1 484.6L951.1 488.0L952.1 486.0L953.1 480.7L954.1 468.9L955.1 468.2L956.1 482.6L957.1 466.6L958.1 467.1L959.1 463.4L960.1 459.9L961.1 456.4L962.1 451.5L963.1 449.2L964.1 437.6L965.1 457.2L966.1 443.9L967.1 434.0L968.1 442.7L969.1 441.1L970.1 425.6L971.1 428.8L972.1 438.7L973.1 430.4L974.1 427.2L975.1 428.3L976.1 418.9L977.1 415.4L978.1 424.9L979.1 411.3L980.1 409.6L981.1 411.8L982.1 405.6L983.1 395.2L984.1 412.9L985.1 398.1L986.1 407.8L987.1 397.3L988.1 385.9L989.1 399.6L990.1 386.2L991.1 379.6L992.1 382.9L993.1 366.8L994.1 381.5L995.1 371.9L996.1 373.0L997.1 366.6L998.1 375.0L999.1 370.9L1000.1 373.7L1001.1 375.7L1002.1 364.4L1003.1 361.2L1004.1 360.7L1005.1 351.3L1006.1 351.2L1007.1 358.1L1008.1 345.3L1009.1 336.0L1010.1 345.1L1011.1 347.4L1012.1 354.0L1013.1 337.2L1014.1 333.9L1015.1 339.3L1016.1 335.8L1017.1 336.9L1018.1 329.9L1019.1 333.2L1020.1 326.1L1021.1 335.4L1022.1 328.8L1023.1 329.3L1024.1 320.6L1025.1 312.0L1026.1 320.6L1027.1 318.6L1028.1 325.3L1029.1 322.8L1030.1 314.2L1031.1 312.6L1032.1 304.4L1033.1 309.7L1034.1 310.1L1035.1 304.2L1036.1 298.0L1037.1 313.6L1038.1 296.3L1039.1 313.6L1040.1 308.9L1041.1 310.3L1042.1 291.7L1043.1 301.2L1044.1 285.4L1045.1 291.7L1046.1 282.1L1047.1 286.7L1048.1 287.3L1049.1 297.0L1050.1 296.8L1051.1 285.2L1052.1 284.9L1053.1 279.2L1054.1 276.8L1055.1 271.2L1056.1 281.9L1057.1 287.0L1058.1 276.2L1059.1 283.8L1060.1 271.8L1061.1 272.2L1062.1 275.0L1063.1 284.8L1064.1 273.8L1065.1 282.7L1066.1 273.9L1067.1 267.7L1068.1 260.5L1069.1 271.4L1070.1 267.3L1071.1 280.6L1072.1 276.8L1073.1 260.9L1074.1 278.9L1075.1 276.2L1076.1 255.1L1077.1 263.7L1078.1 272.9L1079.1 258.9L1080.1 264.9L1081.1 273.8L1082.1 271.4L1083.1 272.6L1084.1 273.4L1085.1 261.9L1086.1 283.7L1087.1 271.6L1088.1 283.0L1089.1 265.0L1090.1 270.8L1091.1 268.7L1092.1 264.7L1093.1 267.7L1094.1 266.8L1095.1 270.5L1096.1 266.3L1097.1 263.9L1098.1 266.6L1099.1 273.3L1100.1 262.5L1101.1 266.0L1102.1 262.0L1103.1 245.8L1104.1 253.3L1105.1 252.7L1106.1 248.7L1107.1 254.1L1108.1 245.2L1109.1 260.1L1110.1 253.9L1111.1 266.9L1112.1 260.6L1113.1 248.2L1114.1 256.3L1115.1 258.5L1116.1 253.5L1117.1 256.3L1118.1 251.4L1119.1 254.6L1120.1 262.8L1121.1 258.9L1122.1 271.2L1123.1 247.2L1124.1 257.9L1125.1 261.9L1126.1 276.5L1127.1 274.7L1128.1 272.9L1129.1 275.4L1130.1 280.9L1131.1 275.1L1132.1 269.3L1133.1 273.3L1134.1 267.6L1135.1 272.2L1136.1 277.5L1137.1 272.0L1138.1 277.4L1139.1 274.4L1140.1 269.0L1141.1 269.1L1142.1 285.5L1143.1 281.7L1144.1 288.4L1145.1 282.7L1146.1 284.3L1147.1 287.3L1148.1 283.9L1149.1 297.3L1150.1 295.5L1151.1 292.2L1152.1 282.8L1153.1 287.5L1154.1 293.8L1155.1 301.6L1156.1 294.0L1157.1 295.1L1158.1 300.1L1159.1 298.2L1160.1 297.3L1161.1 291.4L1162.1 309.1L1163.1 301.1L1164.1 298.8L1165.1 302.8L1166.1 295.3L1167.1 293.8L1168.1 294.2L1169.1 310.4L1170.1 299.6L1171.1 310.8L1172.1 302.8L1173.1 299.8L1174.1 309.1L1175.1 309.4L1176.1 310.9L1177.1 328.9L1178.1 319.5L1179.1 315.2L1180.1 326.6L1181.1 319.7L1182.1 331.6L1183.1 313.8L1184.1 333.3L1185.1 319.9L1186.1 323.7L1187.1 331.6L1188.1 324.4L1189.1 322.2L1190.1 332.3L1191.1 334.6L1192.1 327.3L1193.1 346.8L1194.1 336.6L1195.1 340.0L1196.1 344.8L1197.1 349.0L1198.1 351.1" fill="none" stroke="#808000" stroke-width="5.4" stroke-linejoin="round" stroke-linecap="butt"/>
<path d="M1820.5 1229.9L1821.5 1231.7L1822.5 1231.9L1823.5 1229.9L1824.5 1229.7L1825.5 1232.2L1826.5 1233.6L1827.5 1233.1L1828.5 1232.2L1829.5 1233.7L1830.5 1236.2L1831.5 1233.6L1832.5 1236.7L1833.5 1236.6L1834.5 1237.0L1835.5 1237.7L1836.5 1236.7L1837.5 1237.6L1838.5 1240.1L1839.5 1238.2L1840.5 1238.5L1841.5 1237.9L1842.5 1239.3L1843.5 1241.0L1844.5 1241.9L1845.5 1241.7L1846.5 1242.0L1847.5 1242.4L1848.5 1242.5L1849.5 1243.6L1850.5 1242.8L1851.5 1244.4L1852.5 1243.6L1853.5 1242.4L1854.5 1243.1L1855.5 1244.5L1856.5 1244.6L1857.5 1244.2L1858.5 1245.0L1859.5 1246.3L1860.5 1246.9L1861.5 1247.7L1862.5 1246.3L1863.5 1247.8L1864.5 1248.8L1865.5 1248.5L1866.5 1250.2L1867.5 1248.3L1868.5 1249.1L1869.5 1249.5L1870.5 1249.3L1871.5 1249.9L1872.5 1250.5L1873.5 1250.5L1874.5 1250.4L1875.5 1250.7L1876.5 1251.4L1877.5 1250.2L1878.5 1252.2L1879.5 1251.2L1880.5 1252.3L1881.5 1251.8L1882.5 1253.2L1883.5 1253.0L1884.5 1253.4L1885.5 1253.2L1886.5 1254.3L1887.5 1256.0L1888.5 1253.0L1889.5 1255.5L1890.5 1255.4L1891.5 1255.1L1892.5 1254.5L1893.5 1257.5L1894.5 1256.4L1895.5 1257.4L1896.5 1256.3L1897.5 1256.2L1898.5 1258.2L1899.5 1258.1L1900.5 1257.3L1901.5 1257.6L1902.5 1258.6L1903.5 1257.5L1904.5 1257.7L1905.5 1258.7L1906.5 1259.9L1907.5 1260.0L1908.5 1259.5L1909.5 1260.8L1910.5 1259.6L1911.5 1259.5L1912.5 1262.3L1913.5 1259.9L1914.5 1261.1L1915.5 1261.3L1916.5 1261.1L1917.5 1261.4L1918.5 1262.0L1919.5 1262.0L1920.5 1261.2L1921.5 1261.9L1922.5 1263.4L1923.5 1262.9L1924.5 1262.0L1925.5 1262.7L1926.5 1261.8L1927.5 1261.7L1928.5 1262.6L1929.5 1264.8L1930.5 1262.9L1931.5 1261.8L1932.5 1263.7L1933.5 1263.3L1934.5 1264.8L1935.5 1265.4L1936.5 1264.1L1937.5 1264.7L1938.5 1263.9L1939.5 1266.0L1940.5 1264.4L1941.5 1265.2L1942.5 1267.4L1943.5 1264.6L1944.5 1265.8L1945.5 1265.7L1946.5 1266.3L1947.5 1266.5L1948.5 1267.6L1949.5 1266.8L1950.5 1267.0L1951.5 1265.5L1952.5 1267.1L1953.5 1265.6L1954.5 1268.1L1955.5 1267.1L1956.5 1268.1L1957.5 1266.9L1958.5 1267.7L1959.5 1267.7L1960.5 1268.3L1961.5 1267.8L1962.5 1267.5L1963.5 1267.8L1964.5 1267.6L1965.5 1267.5L1966.5 1267.4L1967.5 1267.2L1968.5 1270.4L1969.5 1268.1L1970.5 1267.9L1971.5 1269.9L1972.5 1269.4L1973.5 1269.1L1974.5 1270.4L1975.5 1271.1L1976.5 1268.8L1977.5 1270.9L1978.5 1270.3L1979.5 1270.9L1980.5 1269.5L1981.5 1271.6L1982.5 1271.2L1983.5 1268.2L1984.5 1271.5L1985.5 1271.7L1986.5 1269.3L1987.5 1270.9L1988.5 1270.6L1989.5 1271.0L1990.5 1270.1L1991.5 1271.6L1992.5 1271.8L1993.5 1271.1L1994.5 1271.2L1995.5 1269.8L1996.5 1271.9L1997.5 1270.4L1998.5 1271.7L1999.5 1271.0L2000.5 1273.8L2001.5 1271.9L2002.5 1273.4L2003.5 1272.0L2004.5 1272.1L2005.5 1272.9L2006.5 1272.3L2007.5 1274.4L2008.5 1272.3L2009.5 1274.0L2010.5 1271.5L2011.5 1271.9L2012.5 1273.4L2013.5 1271.6L2014.5 1274.7L2015.5 1273.5L2016.5 1273.2L2017.5 1274.7L2018.5 1272.8L2019.5 1272.6L2020.5 1271.4L2021.5 1271.7L2022.5 1273.3L2023.5 1271.7L2024.5 1274.4L2025.5 1274.6L2026.5 1274.2L2027.5 1273.9" fill="none" stroke="#808000" stroke-width="5.4" stroke-linejoin="round" stroke-linecap="butt"/>
<path d="M764.7 819.1L765.7 815.3L766.7 811.0L767.7 807.0L768.7 802.2L769.7 799.5L770.7 795.2L771.7 793.1L772.7 785.9L773.7 787.0L774.7 776.4L775.7 776.1L776.7 773.6L777.7 768.0L778.7 763.4L779.7 760.8L780.7 758.3L781.7 755.4L782.7 747.1L783.7 746.3L784.7 741.2L785.7 740.4L786.7 734.1L787.7 731.5L788.7 729.5L789.7 723.5L790.7 720.8L791.7 715.4L792.7 712.7L793.7 706.2L794.7 704.5L795.7 701.6L796.7 697.7L797.7 699.2L798.7 688.3L799.7 684.8L800.7 685.3L801.7 682.5L802.7 678.2L803.7 676.6L804.7 674.8L805.7 666.7L806.7 661.7L807.7 660.4L808.7 659.4L809.7 654.6L810.7 650.1L811.7 647.6L812.7 644.2L813.7 637.0L814.7 637.7L815.7 631.9L816.7 629.6L817.7 625.8L818.7 623.5L819.7 621.8L820.7 616.3L821.7 613.7L822.7 611.8L823.7 607.6L824.7 602.1L825.7 601.6L826.7 595.9L827.7 592.9L828.7 590.6L829.7 589.8L830.7 581.8L831.7 579.5L832.7 577.3L833.7 572.0L834.7 570.7L835.7 569.7L836.7 560.3L837.7 560.7L838.7 555.9L839.7 558.2L840.7 552.0L841.7 548.8L842.7 544.1L843.7 539.0L844.7 538.0L845.7 535.3L846.7 531.4L847.7 531.8L848.7 526.5L849.7 519.7L850.7 517.6L851.7 515.8L852.7 509.4L853.7 508.3L854.7 504.1L855.7 502.6L856.7 499.2L857.7 494.3L858.7 495.1L859.7 487.9L860.7 487.3L861.7 480.4L862.7 477.3L863.7 474.7L864.7 471.9L865.7 471.3L866.7 462.9L867.7 466.5L868.7 456.9L869.7 459.5L870.7 453.3L871.7 448.4L872.7 448.0L873.7 441.7L874.7 439.3L875.7 436.1L876.7 437.4L877.7 426.8L878.7 430.0L879.7 421.5L880.7 417.0L881.7 414.0L882.7 414.5L883.7 407.6L884.7 402.7L885.7 402.4L886.7 398.1L887.7 396.3L888.7 387.7L889.7 390.3L890.7 386.1L891.7 378.1L892.7 375.5L893.7 373.9L894.7 368.8L895.7 367.8L896.7 364.0L897.7 359.2L898.7 353.2L899.7 347.8L900.7 350.1L901.7 343.2L902.7 345.8L903.7 344.2L904.7 337.2L905.7 336.0L906.7 333.9L907.7 330.0L908.7 322.3L909.7 319.7L910.7 318.2L911.7 316.8L912.7 311.8L913.7 311.7L914.7 311.8L915.7 305.0L916.7 303.5L917.7 298.5L918.7 298.2L919.7 298.3L920.7 297.0L921.7 291.9L922.7 287.0L923.7 291.7L924.7 279.3L925.7 281.2L926.7 278.2L927.7 278.0L928.7 277.3L929.7 272.7L930.7 277.4L931.7 275.0L932.7 270.0L933.7 264.6L934.7 260.0L935.7 265.1L936.7 262.5L937.7 259.6L938.7 260.3L939.7 256.1L940.7 249.4L941.7 246.4L942.7 248.7L943.7 248.3L944.7 248.0L945.7 245.4L946.7 242.7L947.7 239.5L948.7 241.5L949.7 240.4L950.7 235.5L951.7 233.0L952.7 233.0L953.7 230.0L954.7 231.8L955.7 226.7L956.7 229.3L957.7 224.9L958.7 227.0L959.7 230.1L960.7 220.2L961.7 222.2L962.7 226.3L963.7 221.8L964.7 218.7L965.7 218.4L966.7 215.1L967.7 211.0L968.7 208.2L969.7 210.5L970.7 209.7L971.7 213.1L972.7 209.9L973.7 204.0L974.7 208.3L975.7 202.8L976.7 208.1L977.7 201.3L978.7 205.3L979.7 202.4L980.7 199.9L981.7 203.1L982.7 198.9L983.7 193.4L984.7 199.0L985.7 194.8L986.7 195.6L987.7 196.8L988.7 197.7L989.7 195.8L990.7 192.4L991.7 193.0L992.7 191.7L993.7 193.9L994.7 192.6L995.7 196.2L996.7 192.2L997.7 196.4L998.7 198.4L999.7 194.7L1000.7 192.6L1001.7 195.9L1002.7 190.2L1003.7 191.9L1004.7 195.2L1005.7 192.8L1006.7 190.4L1007.7 189.5L1008.7 188.4L1009.7 193.0L1010.7 193.6L1011.7 191.6L1012.7 187.2L1013.7 187.2L1014.7 183.5L1015.7 182.1L1016.7 186.2L1017.7 185.9L1018.7 180.7L1019.7 181.3L1020.7 186.8L1021.7 185.0L1022.7 194.7L1023.7 198.2L1024.7 194.4L1025.7 198.2L1026.7 202.5L1027.7 203.4L1028.7 201.1L1029.7 201.1L1030.7 200.8L1031.7 203.0L1032.7 203.1L1033.7 200.9L1034.7 200.0L1035.7 200.9L1036.7 200.5L1037.7 199.7L1038.7 197.4L1039.7 200.8L1040.7 202.6L1041.7 200.6L1042.7 203.5L1043.7 201.3L1044.7 202.3L1045.7 202.6L1046.7 195.3L1047.7 202.6L1048.7 203.9L1049.7 198.4L1050.7 197.0L1051.7 199.8L1052.7 202.1L1053.7 204.5L1054.7 200.3L1055.7 204.8L1056.7 203.2L1057.7 208.0L1058.7 208.3L1059.7 210.5L1060.7 210.1L1061.7 211.9L1062.7 217.1L1063.7 213.6L1064.7 218.3L1065.7 218.7L1066.7 221.3L1067.7 221.9L1068.7 228.9L1069.7 230.1L1070.7 228.7L1071.7 236.4L1072.7 233.5L1073.7 238.6L1074.7 233.5L1075.7 236.7L1076.7 238.1L1077.7 246.9L1078.7 245.7L1079.7 243.9L1080.7 247.2L1081.7 247.9L1082.7 249.5L1083.7 249.1L1084.7 255.5L1085.7 255.8L1086.7 254.5L1087.7 259.1L1088.7 262.2L1089.7 262.2L1090.7 262.4L1091.7 266.5L1092.7 268.5L1093.7 273.4L1094.7 268.7L1095.7 272.7L1096.7 273.6L1097.7 274.2L1098.7 277.3L1099.7 275.4L1100.4 280.5" fill="none" stroke="#000080" stroke-width="5.4" stroke-linejoin="round" stroke-linecap="butt"/>
<path d="M1778.3 1186.5L1779.3 1186.0L1780.3 1187.5L1781.3 1186.1L1782.3 1187.5L1783.3 1186.1L1784.3 1187.9L1785.3 1187.3L1786.3 1188.6L1787.3 1188.3L1788.3 1187.7L1789.3 1187.5L1790.3 1188.3L1791.3 1188.0L1792.3 1187.4L1793.3 1188.7L1794.3 1186.5L1795.3 1188.3L1796.3 1190.2L1797.3 1189.0L1798.3 1187.5L1799.3 1189.7L1800.3 1189.0L1801.3 1188.5L1802.3 1188.5L1803.3 1189.2L1804.3 1189.9L1805.3 1189.2L1806.3 1190.8L1807.3 1189.0L1808.3 1190.2L1809.3 1188.4L1810.3 1188.1L1811.3 1189.7L1812.3 1190.1L1813.3 1191.5L1814.3 1189.8L1815.3 1190.3L1816.3 1189.2L1817.3 1190.3L1818.3 1190.8L1819.3 1190.1L1820.3 1191.3L1821.3 1191.7L1822.3 1191.1L1823.3 1190.6L1824.3 1190.6L1825.3 1191.3L1826.3 1190.0L1827.3 1191.7L1828.3 1190.5L1829.3 1191.3L1830.3 1190.2L1831.3 1190.4L1832.3 1190.6L1833.3 1191.7L1834.3 1191.4L1835.3 1191.5L1836.3 1192.3L1837.3 1190.8L1838.3 1192.3L1839.3 1191.1L1840.3 1190.9L1841.3 1191.3L1842.3 1192.6L1843.3 1193.2L1844.3 1191.4L1845.3 1191.0L1846.3 1190.7L1847.3 1192.0L1848.3 1192.4L1849.3 1192.4L1850.3 1192.3L1851.3 1193.3L1852.3 1192.2L1853.3 1192.6L1854.3 1192.1L1855.3 1191.5L1856.3 1190.5L1857.3 1192.4L1858.3 1191.9L1859.3 1192.0L1860.3 1192.0L1861.3 1192.6L1862.3 1192.7L1863.3 1190.8L1864.3 1192.3L1865.3 1193.0L1866.3 1193.0L1867.3 1192.5L1868.3 1192.9L1869.3 1191.5L1870.3 1193.1L1871.3 1192.6L1872.3 1192.9L1873.3 1193.4L1874.3 1193.0L1875.3 1192.0L1876.3 1191.3L1877.3 1192.6L1878.3 1193.0L1879.3 1193.2L1880.3 1193.9L1881.3 1193.4L1882.3 1193.4L1883.3 1191.7L1884.3 1193.8L1885.3 1193.3L1886.3 1194.9L1887.3 1193.8L1888.3 1192.6L1889.3 1193.3L1890.3 1193.8L1891.3 1192.5L1892.3 1192.0L1893.3 1193.7L1894.3 1192.9L1895.3 1193.2L1896.3 1193.4L1897.3 1193.1L1898.3 1194.0L1899.3 1193.6L1900.3 1193.6L1901.3 1194.1L1902.3 1193.4L1903.3 1192.4L1904.3 1193.5L1905.3 1192.4L1906.3 1193.7L1907.3 1192.6L1908.3 1193.5L1909.3 1194.5L1910.3 1194.1L1911.3 1192.9L1912.3 1192.4L1913.3 1193.2L1914.3 1194.4L1915.3 1194.0L1916.3 1192.4L1917.3 1194.3L1918.3 1193.9L1919.3 1194.2L1920.3 1194.8L1921.3 1193.0L1922.3 1194.1L1923.3 1193.8L1924.3 1194.6L1925.3 1193.4L1926.3 1192.6L1927.3 1193.8L1928.3 1194.5L1929.3 1193.5L1930.3 1193.5L1931.3 1193.9L1932.3 1193.6L1933.3 1193.4L1934.3 1193.4L1935.3 1195.0L1936.3 1193.4L1937.3 1193.9L1938.3 1194.7L1939.3 1194.7L1940.3 1192.5L1941.3 1193.2L1942.3 1192.8L1943.3 1193.7L1944.3 1192.0L1945.3 1192.7L1946.3 1193.7L1947.3 1194.1L1948.3 1192.9L1949.3 1194.1L1950.3 1194.9L1951.3 1193.1L1952.3 1194.9L1953.3 1193.8L1954.3 1192.1L1955.3 1194.0L1956.3 1194.0L1957.3 1195.1L1958.3 1193.4L1959.3 1195.4L1960.3 1193.9L1961.3 1194.4L1962.3 1193.8L1963.3 1194.4L1964.3 1195.0L1965.3 1194.0L1966.3 1193.6L1967.3 1194.5L1968.3 1193.8L1969.3 1194.2L1970.3 1194.8L1971.3 1194.2L1972.3 1194.3L1973.3 1194.2L1974.3 1194.1L1975.3 1194.8L1976.3 1195.1L1977.3 1194.3L1978.3 1192.7L1979.3 1192.9L1980.3 1194.8L1981.3 1195.4L1982.3 1195.2L1983.3 1193.8L1984.3 1194.4L1985.3 1193.8L1986.3 1194.6L1987.3 1194.2L1988.3 1193.4L1989.3 1194.8L1990.3 1194.3L1991.3 1196.0L1992.3 1195.3L1993.3 1193.1L1994.3 1195.1L1995.3 1193.6L1996.3 1193.9L1997.3 1194.3L1998.3 1193.4L1999.3 1196.2L2000.3 1195.1L2001.3 1193.8L2002.3 1195.4L2003.3 1192.7L2004.3 1195.6L2005.3 1194.7L2006.3 1194.8L2007.3 1195.4L2008.3 1194.8L2009.3 1195.2L2010.3 1193.9L2011.3 1195.1L2012.3 1194.5L2013.3 1195.2L2014.3 1194.7L2015.3 1195.2L2016.3 1194.5L2017.3 1193.9L2018.3 1194.3L2019.3 1195.7L2020.3 1194.8L2021.3 1195.1L2022.3 1194.8L2023.3 1195.8L2024.3 1194.5L2025.3 1193.3L2026.3 1194.7L2027.3 1195.2" fill="none" stroke="#000080" stroke-width="5.4" stroke-linejoin="round" stroke-linecap="butt"/>
<path d="M663.5 811.2L664.5 804.5L665.5 803.3L666.5 801.3L667.5 795.9L668.5 792.8L669.5 786.2L670.5 784.7L671.5 780.7L672.5 779.4L673.5 774.3L674.5 770.3L675.5 765.4L676.5 761.5L677.5 759.4L678.5 758.2L679.5 748.6L680.5 744.5L681.5 748.7L682.5 744.3L683.5 738.9L684.5 734.8L685.5 729.7L686.5 726.1L687.5 720.9L688.5 720.8L689.5 715.6L690.5 708.6L691.5 707.8L692.5 704.1L693.5 700.3L694.5 702.1L695.5 696.7L696.5 686.5L697.5 688.3L698.5 686.0L699.5 683.0L700.5 678.3L701.5 668.7L702.5 671.3L703.5 665.9L704.5 665.4L705.5 659.6L706.5 651.7L707.5 655.6L708.5 645.2L709.5 646.7L710.5 641.6L711.5 635.7L712.5 628.5L713.5 627.8L714.5 624.0L715.5 622.1L716.5 618.4L717.5 619.0L718.5 612.6L719.5 610.7L720.5 601.5L721.5 599.5L722.5 599.1L723.5 595.6L724.5 591.2L725.5 584.8L726.5 579.6L727.5 582.8L728.5 573.0L729.5 570.0L730.5 571.1L731.5 563.7L732.5 558.1L733.5 558.1L734.5 551.6L735.5 551.7L736.5 544.2L737.5 538.5L738.5 542.3L739.5 536.3L740.5 529.5L741.5 524.9L742.5 517.8L743.5 515.9L744.5 510.1L745.5 511.9L746.5 508.9L747.5 500.7L748.5 496.3L749.5 494.7L750.5 489.5L751.5 487.0L752.5 482.8L753.5 478.5L754.5 475.0L755.5 466.2L756.5 466.9L757.5 454.8L758.5 456.7L759.5 451.3L760.5 448.9L761.5 442.9L762.5 439.8L763.5 429.4L764.5 428.9L765.5 423.7L766.5 422.9L767.5 418.0L768.5 411.8L769.5 407.3L770.5 402.5L771.5 400.1L772.5 397.8L773.5 394.6L774.5 387.9L775.5 381.1L776.5 377.9L777.5 379.0L778.5 369.6L779.5 368.1L780.5 359.0L781.5 364.9L782.5 358.7L783.5 353.0L784.5 351.1L785.5 350.5L786.5 344.9L787.5 342.7L788.5 338.9L789.5 331.8L790.5 326.8L791.5 332.9L792.5 324.7L793.5 327.5L794.5 324.5L795.5 316.1L796.5 312.5L797.5 309.9L798.5 314.6L799.5 306.1L800.5 302.3L801.5 303.3L802.5 294.2L803.5 292.5L804.5 289.6L805.5 288.6L806.5 281.4L807.5 280.7L808.5 280.6L809.5 273.7L810.5 270.7L811.5 272.9L812.5 264.8L813.5 264.8L814.5 265.3L815.5 259.9L816.5 263.1L817.5 253.2L818.5 244.9L819.5 248.8L820.5 245.3L821.5 244.3L822.5 233.2L823.5 235.1L824.5 236.6L825.5 230.5L826.5 230.9L827.5 221.3L828.5 222.8L829.5 218.3L830.5 221.2L831.5 209.2L832.5 214.4L833.5 208.2L834.5 205.0L835.5 199.8L836.5 195.7L837.5 191.7L838.5 195.7L839.5 188.7L840.5 194.0L841.5 189.1L842.5 186.9L843.5 187.0L844.5 180.4L845.5 181.8L846.5 170.2L847.5 172.6L848.5 175.8L849.5 169.7L850.5 174.1L851.5 166.7L852.5 161.4L853.5 167.7L854.5 161.4L855.5 158.4L856.5 157.2L857.5 153.1L858.5 152.9L859.5 155.6L860.5 148.7L861.5 149.1L862.5 145.5L863.5 147.0L864.5 147.5L865.5 146.1L866.5 141.7L867.5 139.0L868.5 141.5L869.5 142.5L870.5 140.5L871.5 144.8L872.5 136.5L873.5 133.0L874.5 132.9L875.5 136.5L876.5 128.6L877.5 130.4L878.5 124.3L879.5 128.4L880.5 131.0L881.5 131.3L882.5 129.0L883.5 129.7L884.5 122.7L885.5 130.3L886.5 130.3L887.5 117.2L888.5 118.5L889.5 124.6L890.5 124.0L891.5 125.5L892.5 120.8L893.5 115.9L894.5 116.5L895.5 123.9L896.5 118.1L897.5 111.3L898.5 116.5L899.5 119.3L900.5 116.3L901.5 118.3L902.5 117.4L903.5 115.4L904.5 111.3L905.5 114.9L906.5 117.1L907.5 112.1L908.5 117.9L909.5 121.0L910.5 116.6L911.5 115.1L912.5 113.8L913.5 110.5L914.5 119.1L915.5 112.2L916.5 111.1L917.5 120.2L918.5 117.6L919.5 112.1L920.5 115.3L921.5 115.9L922.5 118.0L923.5 108.7L924.5 112.4L925.5 111.3L926.5 117.6L927.5 115.0L928.5 119.7L929.5 125.6L930.5 121.5L931.5 117.0L932.5 120.7L933.5 123.1L934.5 116.1L935.5 127.6L936.5 124.9L937.5 127.8L938.5 130.1L939.5 127.5L940.5 132.3L941.5 130.2L942.5 125.5L943.5 130.2L944.5 130.8L945.5 134.8L946.5 139.3L947.5 128.6L948.5 134.8L949.5 133.3L950.5 137.6L951.5 140.9L952.5 144.7L953.5 133.9L954.5 141.5L955.5 146.9L956.5 140.3L957.5 146.9L958.5 147.2L959.5 151.8L960.5 149.4L961.5 141.2L962.5 146.4L963.5 151.8L964.5 151.6L965.5 152.6L966.5 159.7L967.5 152.7L968.5 158.7L969.5 163.2L970.5 154.4L971.5 163.3L972.5 163.4L973.5 163.5L974.5 175.2L975.5 166.8L976.5 173.5L977.5 169.5L978.5 170.9L979.5 176.8L980.5 182.0L981.5 179.3L982.5 183.9L983.5 183.0L984.5 189.3L985.5 188.0L986.5 190.0L987.5 193.5L988.5 192.8" fill="none" stroke="#800000" stroke-width="5.4" stroke-linejoin="round" stroke-linecap="butt"/>
<path d="M338.2 818.6L343.2 802.1L348.1 788.9L356.4 775.7L366.3 767.5L376.2 755.9L384.4 734.5L392.7 714.7L402.6 693.3L410.8 670.2L419.1 645.4L427.3 622.3L433.9 599.3L442.1 577.8L453.4 554.7L460.6 530.3L469.9 500.4L477.4 472.3L484.9 444.3L492.3 414.4L499.8 393.8L507.3 384.5L514.8 358.3L522.2 332.1L529.7 306.0L537.2 287.3L552.1 251.8L560.0 240.0L568.3 222.2L577.9 193.3L583.4 168.5L587.5 152.0L593.0 134.2L598.5 124.5L601.3 120.4L612.3 113.5L616.4 106.6L626.0 86.0L634.3 68.1L641.1 58.5L649.4 56.4L660.4 51.6L674.2 46.8L679.7 39.3L698.9 38.6L703.0 45.4L723.7 48.9L729.2 59.9L736.0 79.1L745.7 110.8L755.3 116.3L770.4 123.2L775.9 134.2L785.5 157.5L796.6 183.7L804.8 209.8L813.1 229.0L818.6 238.7L821.3 241.4" fill="none" stroke="#FF0080" stroke-width="5.4" stroke-linejoin="round" stroke-linecap="butt"/>
<rect x="81" y="1648.6" width="1947.5" height="2.4" fill="#6e6e6e"/>
<rect x="81" y="1651" width="1947.5" height="5.2" fill="#000"/>
<rect x="80.9" y="1651" width="5.0" height="32.5" fill="#000"/>
<rect x="242.6" y="1651" width="5.0" height="18" fill="#000"/>
<rect x="404.4" y="1651" width="5.0" height="32.5" fill="#000"/>
<rect x="566.1" y="1651" width="5.0" height="18" fill="#000"/>
<rect x="727.8" y="1651" width="5.0" height="32.5" fill="#000"/>
<rect x="889.5" y="1651" width="5.0" height="18" fill="#000"/>
<rect x="1051.2" y="1651" width="5.0" height="32.5" fill="#000"/>
<rect x="1213.0" y="1651" width="5.0" height="18" fill="#000"/>
<rect x="1374.7" y="1651" width="5.0" height="32.5" fill="#000"/>
<rect x="1536.4" y="1651" width="5.0" height="18" fill="#000"/>
<rect x="1698.1" y="1651" width="5.0" height="32.5" fill="#000"/>
<rect x="1859.9" y="1651" width="5.0" height="18" fill="#000"/>
<rect x="2021.6" y="1651" width="5.0" height="32.5" fill="#000"/>
<text transform="translate(29.10,1749.10) scale(0.9611,1)" font-family="'Liberation Sans', Arial, Helvetica, sans-serif" font-size="66.59" fill="#000">500</text>
<text transform="translate(352.25,1749.10) scale(0.9611,1)" font-family="'Liberation Sans', Arial, Helvetica, sans-serif" font-size="66.59" fill="#000">550</text>
<text transform="translate(675.70,1749.10) scale(0.9611,1)" font-family="'Liberation Sans', Arial, Helvetica, sans-serif" font-size="66.59" fill="#000">600</text>
<text transform="translate(998.85,1749.10) scale(0.9611,1)" font-family="'Liberation Sans', Arial, Helvetica, sans-serif" font-size="66.59" fill="#000">650</text>
<text transform="translate(1322.60,1749.10) scale(0.9611,1)" font-family="'Liberation Sans', Arial, Helvetica, sans-serif" font-size="66.59" fill="#000">700</text>
<text transform="translate(1646.05,1749.10) scale(0.9611,1)" font-family="'Liberation Sans', Arial, Helvetica, sans-serif" font-size="66.59" fill="#000">750</text>
<text transform="translate(1969.50,1749.10) scale(0.9611,1)" font-family="'Liberation Sans', Arial, Helvetica, sans-serif" font-size="66.59" fill="#000">800</text>
<text transform="translate(811.80,1832.70) scale(0.9688,1)" font-family="'Liberation Sans', Arial, Helvetica, sans-serif" font-size="74.92" fill="#000">Wavelength (nm)</text>
<rect x="80" y="832" width="662" height="806" fill="#fff"/>
<rect x="80" y="831.2" width="662" height="2.4" fill="#555"/>
<rect x="79" y="832" width="2" height="806" fill="#8c8c8c"/>
<rect x="739.6" y="832" width="3.6" height="806" fill="#b4b4b4"/>
<rect x="79" y="1637" width="664" height="2.6" fill="#8c8c8c"/>
<rect x="100.2" y="881.3" width="138.5" height="8.4" fill="#FF0080"/>
<rect x="100.2" y="979.6" width="138.5" height="8.4" fill="#800000"/>
<rect x="97.8" y="1074.0" width="140.9" height="8.4" fill="#000080"/>
<rect x="103.0" y="1173.6" width="135.7" height="8.4" fill="#808000"/>
<rect x="100.2" y="1273.6" width="138.5" height="8.4" fill="#FF00FF"/>
<rect x="103.0" y="1375.6" width="135.7" height="8.4" fill="#008080"/>
<rect x="100.2" y="1474.7" width="138.5" height="8.4" fill="#0000FF"/>
<rect x="103.0" y="1580.8" width="135.7" height="8.4" fill="#FF0000"/>
<text transform="translate(286.20,916.40) scale(0.9611,1)" font-family="'Liberation Sans', Arial, Helvetica, sans-serif" font-size="74.92" fill="#000">MeCN</text>
<text transform="translate(282.60,1008.50) scale(0.9611,1)" font-family="'Liberation Sans', Arial, Helvetica, sans-serif" font-size="74.92" fill="#000">MeOH</text>
<text transform="translate(279.80,1106.00) scale(0.9611,1)" font-family="'Liberation Sans', Arial, Helvetica, sans-serif" font-size="74.92" fill="#000">EtOH</text>
<text transform="translate(249.60,1203.10) scale(0.9611,1)" font-family="'Liberation Sans', Arial, Helvetica, sans-serif" font-size="74.92" fill="#000">Acetone</text>
<text transform="translate(273.90,1303.90) scale(0.9611,1)" font-family="'Liberation Sans', Arial, Helvetica, sans-serif" font-size="74.92" fill="#000">Et<tspan font-size="49.94">2</tspan>O</text>
<text transform="translate(272.60,1403.20) scale(0.9611,1)" font-family="'Liberation Sans', Arial, Helvetica, sans-serif" font-size="74.92" fill="#000">CHCl<tspan font-size="49.94">3</tspan></text>
<text transform="translate(268.80,1509.20) scale(0.9611,1)" font-family="'Liberation Sans', Arial, Helvetica, sans-serif" font-size="74.92" fill="#000">CH<tspan font-size="49.94">2</tspan>Cl<tspan font-size="49.94">2</tspan></text>
<text transform="translate(318.00,1607.10) scale(0.9178,1)" font-family="'Liberation Sans', Arial, Helvetica, sans-serif" font-size="81.78" font-weight="bold" fill="#000">1a</text>
<defs>
<radialGradient id="mecnSpot" cx="0.22" cy="0.8" r="0.35"><stop offset="0" stop-color="#ff8a28"/><stop offset="1" stop-color="#ff4a2a" stop-opacity="0"/></radialGradient>
<radialGradient id="mecnSpot2" cx="0.6" cy="0.85" r="0.25"><stop offset="0" stop-color="#ff7a30"/><stop offset="1" stop-color="#ff4a2a" stop-opacity="0"/></radialGradient>
<linearGradient id="pinkL" x1="0" y1="0" x2="1" y2="0"><stop offset="0" stop-color="#7a2a90"/><stop offset="0.06" stop-color="#ff4060" stop-opacity="0"/></linearGradient>
<linearGradient id="hotB" x1="0" y1="0" x2="1" y2="0"><stop offset="0" stop-color="#ff0a80"/><stop offset="0.45" stop-color="#ff0a80"/><stop offset="1" stop-color="#1a0a78"/></linearGradient>
</defs>
<defs>
<linearGradient id="mecnIn" x1="0" y1="0" x2="1" y2="0"><stop offset="0" stop-color="#ff5230"/><stop offset="0.5" stop-color="#ff4a2a"/><stop offset="1" stop-color="#ff3422"/></linearGradient>
<linearGradient id="mecnTop" x1="0" y1="0" x2="1" y2="0"><stop offset="0" stop-color="#8a1a38"/><stop offset="0.5" stop-color="#6a0e28"/><stop offset="1" stop-color="#3a0818"/></linearGradient>
<linearGradient id="mecnBot" x1="0" y1="0" x2="1" y2="0"><stop offset="0" stop-color="#8a2040"/><stop offset="0.3" stop-color="#5a0c30"/><stop offset="0.7" stop-color="#8a2040"/><stop offset="1" stop-color="#6a1028"/></linearGradient>
<radialGradient id="mecnY1" cx="0.5" cy="0.5" r="0.5"><stop offset="0" stop-color="#ff9030"/><stop offset="1" stop-color="#ff6a2a" stop-opacity="0"/></radialGradient>
<radialGradient id="mecnR1" cx="0.5" cy="0.5" r="0.5"><stop offset="0" stop-color="#e00a20"/><stop offset="1" stop-color="#f02020" stop-opacity="0"/></radialGradient>
</defs>
<rect x="523.2" y="852.3" width="211" height="77.4" fill="#f2d8e0"/>
<rect x="524.2" y="853.1" width="209.2" height="75.8" fill="#801834"/>
<rect x="524.2" y="853.1" width="209.2" height="5" fill="url(#mecnTop)"/>
<rect x="524.2" y="921.4" width="209.2" height="7.5" fill="url(#mecnBot)"/>
<rect x="535" y="858" width="187" height="63.4" fill="url(#mecnIn)"/>
<ellipse cx="565" cy="906" rx="30" ry="15" fill="url(#mecnY1)"/>
<ellipse cx="652" cy="912" rx="22" ry="9" fill="url(#mecnY1)" opacity="0.7"/>
<ellipse cx="594" cy="863" rx="18" ry="6" fill="url(#mecnR1)"/>
<ellipse cx="620" cy="899" rx="10" ry="6" fill="url(#mecnR1)" opacity="0.8"/>
<ellipse cx="584" cy="897" rx="6" ry="5" fill="url(#mecnR1)" opacity="0.7"/>
<ellipse cx="711" cy="895" rx="10" ry="14" fill="url(#mecnR1)" opacity="0.5"/>
<defs>
<linearGradient id="meohR" x1="0" y1="0" x2="1" y2="0"><stop offset="0" stop-color="#f93a63" stop-opacity="0"/><stop offset="0.5" stop-color="#a83090"/><stop offset="1" stop-color="#4a2088"/></linearGradient>
<linearGradient id="meohB" x1="0" y1="0" x2="1" y2="0"><stop offset="0" stop-color="#1e0a48"/><stop offset="0.6" stop-color="#2a0a50"/><stop offset="0.85" stop-color="#5a1a78"/><stop offset="1" stop-color="#6a2890"/></linearGradient>
<linearGradient id="etohL" x1="0" y1="0" x2="1" y2="0"><stop offset="0" stop-color="#6a2a98"/><stop offset="0.45" stop-color="#a03090"/><stop offset="1" stop-color="#f93a63" stop-opacity="0"/></linearGradient>
<linearGradient id="etohT" x1="0" y1="0" x2="1" y2="0"><stop offset="0" stop-color="#6a2a90"/><stop offset="0.15" stop-color="#4a1468"/><stop offset="0.5" stop-color="#3a0c58"/><stop offset="1" stop-color="#200848"/></linearGradient>
<radialGradient id="pinkSpot" cx="0.5" cy="0.5" r="0.5"><stop offset="0" stop-color="#c81858" stop-opacity="0.75"/><stop offset="1" stop-color="#f93a63" stop-opacity="0"/></radialGradient>
</defs>
<rect x="526.5" y="947.4" width="205" height="74.6" fill="#c8b8e0"/>
<rect x="527.3" y="948.2" width="203.3" height="73" fill="#f93a63"/>
<rect x="527.3" y="948.2" width="203.3" height="3" fill="#b83878"/>
<rect x="527.3" y="948.2" width="2.8" height="73" fill="#7a3a90"/>
<rect x="720.6" y="948.2" width="10" height="73" fill="url(#meohR)"/>
<rect x="527.3" y="1015.2" width="203.3" height="6" fill="url(#meohB)"/>
<ellipse cx="595" cy="952" rx="14" ry="4" fill="url(#pinkSpot)"/>
<ellipse cx="620" cy="990" rx="8" ry="6" fill="url(#pinkSpot)" opacity="0.6"/>
<rect x="523.2" y="1039.5" width="205.6" height="77.4" fill="#c8b8e0"/>
<rect x="524" y="1040.3" width="204" height="75.8" fill="#f93a63"/>
<rect x="524" y="1040.3" width="12" height="75.8" fill="url(#etohL)"/>
<rect x="524" y="1040.3" width="204" height="4.8" fill="url(#etohT)"/>
<rect x="725.4" y="1040.3" width="2.6" height="75.8" fill="#6a2a88"/>
<rect x="524" y="1111.4" width="204" height="4.7" fill="#5a1a70"/>
<ellipse cx="662" cy="1110" rx="14" ry="5" fill="url(#pinkSpot)"/>
<ellipse cx="640" cy="1073" rx="8" ry="5" fill="url(#pinkSpot)" opacity="0.6"/>
<defs>
<linearGradient id="hTop" x1="0" y1="0" x2="1" y2="0"><stop offset="0" stop-color="#1c0a6e"/><stop offset="0.6" stop-color="#2a0a68"/><stop offset="0.85" stop-color="#5a1080"/><stop offset="1" stop-color="#9a1080"/></linearGradient>
<linearGradient id="hTop2" x1="0" y1="0" x2="1" y2="0"><stop offset="0" stop-color="#1c0a6e"/><stop offset="0.8" stop-color="#2a0a68"/><stop offset="1" stop-color="#6a1080"/></linearGradient>
<linearGradient id="hBot" x1="0" y1="0" x2="1" y2="0"><stop offset="0" stop-color="#6a1078"/><stop offset="0.35" stop-color="#3a0a6a"/><stop offset="0.6" stop-color="#24086a"/><stop offset="1" stop-color="#1a0870"/></linearGradient>
<linearGradient id="hBot2" x1="0" y1="0" x2="1" y2="0"><stop offset="0" stop-color="#3a0a70"/><stop offset="1" stop-color="#1a0870"/></linearGradient>
<radialGradient id="hSpot" cx="0.5" cy="0.5" r="0.5"><stop offset="0" stop-color="#c01078" stop-opacity="0.7"/><stop offset="1" stop-color="#ff0a82" stop-opacity="0"/></radialGradient>
</defs>
<rect x="520.4" y="1135.4" width="207.3" height="81.8" fill="#b8b0e0"/>
<rect x="521.2" y="1136.2" width="205.7" height="80.2" fill="#fe0080"/>
<rect x="521.2" y="1136.2" width="205.7" height="5.5" fill="url(#hTop2)"/>
<rect x="521.2" y="1211.6" width="205.7" height="4.8" fill="url(#hBot)"/>
<rect x="521.2" y="1136.2" width="4.2" height="80.2" fill="#1c0a6e"/>
<rect x="724.1" y="1136.2" width="2.8" height="80.2" fill="#2a0a78"/>
<ellipse cx="581.2" cy="1150.2" rx="16" ry="8" fill="url(#hSpot)"/>
<rect x="523.3" y="1235.6" width="204.4" height="81.2" fill="#b8b0e0"/>
<rect x="524.1" y="1236.4" width="202.8" height="79.6" fill="#fe0080"/>
<rect x="524.1" y="1236.4" width="202.8" height="5.5" fill="url(#hTop)"/>
<rect x="524.1" y="1311.2" width="202.8" height="4.8" fill="url(#hBot)"/>
<rect x="524.1" y="1236.4" width="4.2" height="79.6" fill="#1c0a6e"/>
<rect x="724.1" y="1236.4" width="2.8" height="79.6" fill="#2a0a78"/>
<ellipse cx="584.1" cy="1250.4" rx="16" ry="8" fill="url(#hSpot)"/>
<rect x="522.9" y="1334.7" width="205.6" height="91.6" fill="#b8b0e0"/>
<rect x="523.7" y="1335.5" width="204.0" height="90.0" fill="#fe0080"/>
<rect x="523.7" y="1335.5" width="204.0" height="5.5" fill="url(#hTop)"/>
<rect x="523.7" y="1420.7" width="204.0" height="4.8" fill="url(#hBot)"/>
<rect x="523.7" y="1335.5" width="4.2" height="90.0" fill="#1c0a6e"/>
<rect x="724.9" y="1335.5" width="2.8" height="90.0" fill="#2a0a78"/>
<ellipse cx="583.7" cy="1349.5" rx="16" ry="8" fill="url(#hSpot)"/>
<rect x="520.3" y="1442.3" width="208.5" height="82.4" fill="#b8b0e0"/>
<rect x="521.1" y="1443.1" width="206.9" height="80.8" fill="#fe0080"/>
<rect x="521.1" y="1443.1" width="206.9" height="5.5" fill="url(#hTop2)"/>
<rect x="521.1" y="1519.1" width="206.9" height="4.8" fill="url(#hBot2)"/>
<rect x="521.1" y="1443.1" width="4.2" height="80.8" fill="#1c0a6e"/>
<rect x="723.0" y="1443.1" width="5.0" height="80.8" fill="#2a0a78"/>
<ellipse cx="581.1" cy="1457.1" rx="16" ry="8" fill="url(#hSpot)"/>
<rect x="519.4" y="1539.0" width="209.1" height="83.3" fill="#b8b0e0"/>
<rect x="520.2" y="1539.8" width="207.5" height="81.7" fill="#fe0080"/>
<rect x="520.2" y="1539.8" width="207.5" height="5.5" fill="url(#hTop2)"/>
<rect x="520.2" y="1616.7" width="207.5" height="4.8" fill="url(#hBot2)"/>
<rect x="520.2" y="1539.8" width="4.2" height="81.7" fill="#1c0a6e"/>
<rect x="724.9" y="1539.8" width="2.8" height="81.7" fill="#2a0a78"/>
<ellipse cx="580.2" cy="1553.8" rx="16" ry="8" fill="url(#hSpot)"/>
</svg>
</body></html>
